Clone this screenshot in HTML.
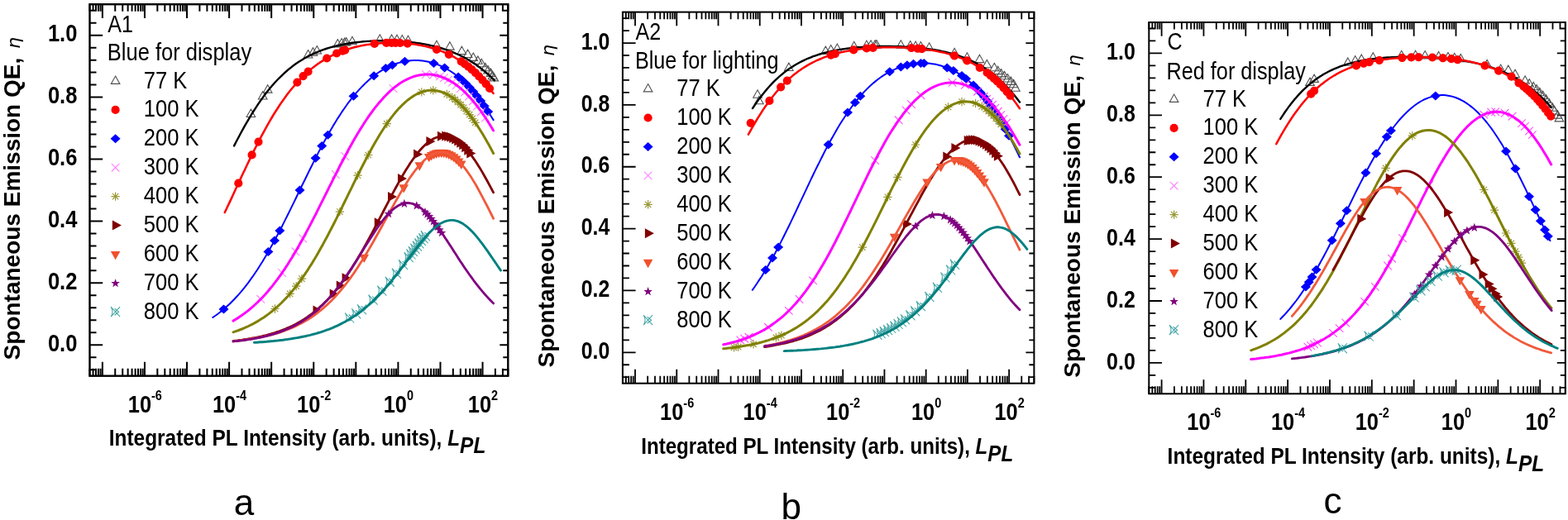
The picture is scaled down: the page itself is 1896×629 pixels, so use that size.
<!DOCTYPE html>
<html><head><meta charset="utf-8"><title>Spontaneous Emission QE</title><style>
html,body{margin:0;padding:0;background:#fff;}
svg{display:block;}
text{font-family:"Liberation Sans",Arial,sans-serif;}
.tl{font-size:29.2px;font-weight:bold;}
.sup{font-size:16.6px;}
.xt{font-size:28.2px;font-weight:bold;}
.it{font-style:italic;}
.yt{font-size:28px;font-weight:bold;}
.eta{font-family:"DejaVu Sans",sans-serif;font-style:oblique;font-weight:normal;font-size:22px;}
.lg{font-size:29px;fill:#000;}
.pl{font-size:29.5px;fill:#000;}
.sub{font-size:44px;}
</style></head><body>
<svg width="1896" height="629" viewBox="0 0 1896 629">
<rect width="100%" height="100%" fill="#fff"/>
<clipPath id="clipA"><rect x="108.5" y="5.2" width="505.8" height="449.5"/></clipPath>
<path d="M108.5 454.7V445.7M108.5 5.2V13.8M112.54 454.7V445.7M112.54 5.2V13.8M115.96 454.7V445.7M115.96 5.2V13.8M118.93 454.7V445.7M118.93 5.2V13.8M121.54 454.7V445.7M121.54 5.2V13.8M123.88 454.7V437.7M123.88 5.2V21.9M139.25 454.7V445.7M139.25 5.2V13.8M148.24 454.7V445.7M148.24 5.2V13.8M154.63 454.7V445.7M154.63 5.2V13.8M159.57 454.7V445.7M159.57 5.2V13.8M163.62 454.7V445.7M163.62 5.2V13.8M167.04 454.7V445.7M167.04 5.2V13.8M170 454.7V445.7M170 5.2V13.8M172.61 454.7V445.7M172.61 5.2V13.8M174.95 454.7V437.7M174.95 5.2V21.9M190.33 454.7V445.7M190.33 5.2V13.8M199.32 454.7V445.7M199.32 5.2V13.8M205.7 454.7V445.7M205.7 5.2V13.8M210.65 454.7V445.7M210.65 5.2V13.8M214.69 454.7V445.7M214.69 5.2V13.8M218.11 454.7V445.7M218.11 5.2V13.8M221.08 454.7V445.7M221.08 5.2V13.8M223.69 454.7V445.7M223.69 5.2V13.8M226.03 454.7V437.7M226.03 5.2V21.9M241.4 454.7V445.7M241.4 5.2V13.8M250.39 454.7V445.7M250.39 5.2V13.8M256.78 454.7V445.7M256.78 5.2V13.8M261.72 454.7V445.7M261.72 5.2V13.8M265.77 454.7V445.7M265.77 5.2V13.8M269.19 454.7V445.7M269.19 5.2V13.8M272.15 454.7V445.7M272.15 5.2V13.8M274.76 454.7V445.7M274.76 5.2V13.8M277.1 454.7V437.7M277.1 5.2V21.9M292.48 454.7V445.7M292.48 5.2V13.8M301.47 454.7V445.7M301.47 5.2V13.8M307.85 454.7V445.7M307.85 5.2V13.8M312.8 454.7V445.7M312.8 5.2V13.8M316.84 454.7V445.7M316.84 5.2V13.8M320.26 454.7V445.7M320.26 5.2V13.8M323.23 454.7V445.7M323.23 5.2V13.8M325.84 454.7V445.7M325.84 5.2V13.8M328.17 454.7V437.7M328.17 5.2V21.9M343.55 454.7V445.7M343.55 5.2V13.8M352.54 454.7V445.7M352.54 5.2V13.8M358.93 454.7V445.7M358.93 5.2V13.8M363.87 454.7V445.7M363.87 5.2V13.8M367.92 454.7V445.7M367.92 5.2V13.8M371.34 454.7V445.7M371.34 5.2V13.8M374.3 454.7V445.7M374.3 5.2V13.8M376.91 454.7V445.7M376.91 5.2V13.8M379.25 454.7V437.7M379.25 5.2V21.9M394.63 454.7V445.7M394.63 5.2V13.8M403.62 454.7V445.7M403.62 5.2V13.8M410 454.7V445.7M410 5.2V13.8M414.95 454.7V445.7M414.95 5.2V13.8M418.99 454.7V445.7M418.99 5.2V13.8M422.41 454.7V445.7M422.41 5.2V13.8M425.38 454.7V445.7M425.38 5.2V13.8M427.99 454.7V445.7M427.99 5.2V13.8M430.32 454.7V437.7M430.32 5.2V21.9M445.7 454.7V445.7M445.7 5.2V13.8M454.69 454.7V445.7M454.69 5.2V13.8M461.08 454.7V445.7M461.08 5.2V13.8M466.02 454.7V445.7M466.02 5.2V13.8M470.07 454.7V445.7M470.07 5.2V13.8M473.49 454.7V445.7M473.49 5.2V13.8M476.45 454.7V445.7M476.45 5.2V13.8M479.06 454.7V445.7M479.06 5.2V13.8M481.4 454.7V437.7M481.4 5.2V21.9M496.77 454.7V445.7M496.77 5.2V13.8M505.77 454.7V445.7M505.77 5.2V13.8M512.15 454.7V445.7M512.15 5.2V13.8M517.1 454.7V445.7M517.1 5.2V13.8M521.14 454.7V445.7M521.14 5.2V13.8M524.56 454.7V445.7M524.56 5.2V13.8M527.53 454.7V445.7M527.53 5.2V13.8M530.14 454.7V445.7M530.14 5.2V13.8M532.47 454.7V437.7M532.47 5.2V21.9M547.85 454.7V445.7M547.85 5.2V13.8M556.84 454.7V445.7M556.84 5.2V13.8M563.23 454.7V445.7M563.23 5.2V13.8M568.17 454.7V445.7M568.17 5.2V13.8M572.22 454.7V445.7M572.22 5.2V13.8M575.64 454.7V445.7M575.64 5.2V13.8M578.6 454.7V445.7M578.6 5.2V13.8M581.21 454.7V445.7M581.21 5.2V13.8M583.55 454.7V437.7M583.55 5.2V21.9M598.92 454.7V445.7M598.92 5.2V13.8M607.92 454.7V445.7M607.92 5.2V13.8M614.3 454.7V445.7M614.3 5.2V13.8M108.5 447.21H116.5M614.3 447.21H608.3M108.5 432.23H116.5M614.3 432.23H608.3M108.5 417.24H124.2M614.3 417.24H604.3M108.5 402.26H116.5M614.3 402.26H608.3M108.5 387.28H116.5M614.3 387.28H608.3M108.5 372.29H116.5M614.3 372.29H608.3M108.5 357.31H116.5M614.3 357.31H608.3M108.5 342.33H124.2M614.3 342.33H604.3M108.5 327.34H116.5M614.3 327.34H608.3M108.5 312.36H116.5M614.3 312.36H608.3M108.5 297.38H116.5M614.3 297.38H608.3M108.5 282.39H116.5M614.3 282.39H608.3M108.5 267.41H124.2M614.3 267.41H604.3M108.5 252.43H116.5M614.3 252.43H608.3M108.5 237.44H116.5M614.3 237.44H608.3M108.5 222.46H116.5M614.3 222.46H608.3M108.5 207.48H116.5M614.3 207.48H608.3M108.5 192.49H124.2M614.3 192.49H604.3M108.5 177.51H116.5M614.3 177.51H608.3M108.5 162.53H116.5M614.3 162.53H608.3M108.5 147.54H116.5M614.3 147.54H608.3M108.5 132.56H116.5M614.3 132.56H608.3M108.5 117.58H124.2M614.3 117.58H604.3M108.5 102.59H116.5M614.3 102.59H608.3M108.5 87.61H116.5M614.3 87.61H608.3M108.5 72.63H116.5M614.3 72.63H608.3M108.5 57.64H116.5M614.3 57.64H608.3M108.5 42.66H124.2M614.3 42.66H604.3M108.5 27.68H116.5M614.3 27.68H608.3M108.5 12.69H116.5M614.3 12.69H608.3" stroke="#000" stroke-width="2.0" fill="none"/>
<rect x="108.5" y="5.2" width="505.8" height="449.5" fill="none" stroke="#000" stroke-width="2.4"/>
<text transform="translate(93.4 424.94) scale(0.875 1)" text-anchor="end" class="tl">0.0</text>
<text transform="translate(93.4 350.03) scale(0.875 1)" text-anchor="end" class="tl">0.2</text>
<text transform="translate(93.4 275.11) scale(0.875 1)" text-anchor="end" class="tl">0.4</text>
<text transform="translate(93.4 200.19) scale(0.875 1)" text-anchor="end" class="tl">0.6</text>
<text transform="translate(93.4 125.28) scale(0.875 1)" text-anchor="end" class="tl">0.8</text>
<text transform="translate(93.4 50.36) scale(0.875 1)" text-anchor="end" class="tl">1.0</text>
<text transform="translate(175.35 499.3) scale(0.87 1)" text-anchor="middle" class="tl">10<tspan dy="-15.3" class="sup">-6</tspan></text>
<text transform="translate(277.5 499.3) scale(0.87 1)" text-anchor="middle" class="tl">10<tspan dy="-15.3" class="sup">-4</tspan></text>
<text transform="translate(379.65 499.3) scale(0.87 1)" text-anchor="middle" class="tl">10<tspan dy="-15.3" class="sup">-2</tspan></text>
<text transform="translate(481.8 499.3) scale(0.87 1)" text-anchor="middle" class="tl">10<tspan dy="-15.3" class="sup">0</tspan></text>
<text transform="translate(583.95 499.3) scale(0.87 1)" text-anchor="middle" class="tl">10<tspan dy="-15.3" class="sup">2</tspan></text>
<g clip-path="url(#clipA)">
<path d="M303.4 132.1l5.3 9.4h-10.6zM317.7 110.6l5.3 9.4h-10.6zM323.7 102.7l5.3 9.4h-10.6zM372.6 60.6l5.3 9.4h-10.6zM378.5 57.7l5.3 9.4h-10.6zM383.3 55.6l5.3 9.4h-10.6zM408.3 47.6l5.3 9.4h-10.6zM413.1 46.6l5.3 9.4h-10.6zM416.7 45.9l5.3 9.4h-10.6zM418.7 45.5l5.3 9.4h-10.6zM425.9 44.3l5.3 9.4h-10.6zM459.3 41.8l5.3 9.4h-10.6zM473.6 41.9l5.3 9.4h-10.6zM480.0 42.2l5.3 9.4h-10.6zM486.3 42.6l5.3 9.4h-10.6zM493.5 43.2l5.3 9.4h-10.6zM528.0 49.2l5.3 9.4h-10.6zM543.9 50.7l5.3 9.4h-10.6zM558.4 56.2l5.3 9.4h-10.6zM565.6 60.1l5.3 9.4h-10.6zM572.3 64.0l5.3 9.4h-10.6zM577.9 67.9l5.3 9.4h-10.6zM582.3 71.3l5.3 9.4h-10.6zM586.8 76.3l5.3 9.4h-10.6zM590.1 79.6l5.3 9.4h-10.6zM593.5 83.0l5.3 9.4h-10.6zM595.7 86.3l5.3 9.4h-10.6zM597.3 88.5l5.3 9.4h-10.6z" fill="none" stroke="#505050" stroke-width="1.1" stroke-linejoin="miter"/>
<path d="M283.1,176.4 L285.7,171.3 L288.4,166.2 L291.0,161.3 L293.7,156.4 L296.3,151.7 L299.0,147.1 L301.6,142.6 L304.3,138.2 L306.9,134.0 L309.6,129.9 L312.2,125.9 L314.8,122.1 L317.5,118.4 L320.1,114.8 L322.8,111.3 L325.4,108.0 L328.1,104.8 L330.7,101.8 L333.4,98.8 L336.0,96.0 L338.7,93.3 L341.3,90.8 L343.9,88.3 L346.6,86.0 L349.2,83.7 L351.9,81.6 L354.5,79.5 L357.2,77.6 L359.8,75.8 L362.5,74.0 L365.1,72.4 L367.8,70.8 L370.4,69.3 L373.0,67.9 L375.7,66.6 L378.3,65.3 L381.0,64.1 L383.6,63.0 L386.3,61.9 L388.9,60.9 L391.6,59.9 L394.2,59.0 L396.9,58.2 L399.5,57.4 L402.1,56.7 L404.8,56.0 L407.4,55.3 L410.1,54.7 L412.7,54.1 L415.4,53.6 L418.0,53.1 L420.7,52.7 L423.3,52.2 L426.0,51.8 L428.6,51.5 L431.2,51.2 L433.9,50.9 L436.5,50.6 L439.2,50.3 L441.8,50.1 L444.5,49.9 L447.1,49.8 L449.8,49.6 L452.4,49.5 L455.0,49.4 L457.7,49.3 L460.3,49.3 L463.0,49.3 L465.6,49.3 L468.3,49.3 L470.9,49.3 L473.6,49.4 L476.2,49.5 L478.9,49.6 L481.5,49.8 L484.1,49.9 L486.8,50.1 L489.4,50.3 L492.1,50.5 L494.7,50.8 L497.4,51.1 L500.0,51.4 L502.7,51.8 L505.3,52.1 L508.0,52.5 L510.6,53.0 L513.2,53.4 L515.9,53.9 L518.5,54.5 L521.2,55.1 L523.8,55.7 L526.5,56.3 L529.1,57.0 L531.8,57.8 L534.4,58.5 L537.1,59.4 L539.7,60.3 L542.3,61.2 L545.0,62.2 L547.6,63.2 L550.3,64.3 L552.9,65.5 L555.6,66.7 L558.2,68.0 L560.9,69.4 L563.5,70.8 L566.2,72.3 L568.8,73.9 L571.4,75.6 L574.1,77.3 L576.7,79.1 L579.4,81.1 L582.0,83.1 L584.7,85.2 L587.3,87.4 L590.0,89.7 L592.6,92.1 L595.3,94.6 L597.9,97.3" stroke="#000000" stroke-width="2.4" fill="none" stroke-linejoin="round" stroke-linecap="round"/>
<path d="M283.2 221.7a5.1 5.1 0 1 0 10.2 0a5.1 5.1 0 1 0 -10.2 0zM299.5 187.4a5.1 5.1 0 1 0 10.2 0a5.1 5.1 0 1 0 -10.2 0zM307.4 171.6a5.1 5.1 0 1 0 10.2 0a5.1 5.1 0 1 0 -10.2 0zM354.3 99.6a5.1 5.1 0 1 0 10.2 0a5.1 5.1 0 1 0 -10.2 0zM361.5 92.1a5.1 5.1 0 1 0 10.2 0a5.1 5.1 0 1 0 -10.2 0zM367.5 86.6a5.1 5.1 0 1 0 10.2 0a5.1 5.1 0 1 0 -10.2 0zM390.1 70.5a5.1 5.1 0 1 0 10.2 0a5.1 5.1 0 1 0 -10.2 0zM402.0 64.5a5.1 5.1 0 1 0 10.2 0a5.1 5.1 0 1 0 -10.2 0zM409.2 61.6a5.1 5.1 0 1 0 10.2 0a5.1 5.1 0 1 0 -10.2 0zM412.1 60.6a5.1 5.1 0 1 0 10.2 0a5.1 5.1 0 1 0 -10.2 0zM447.8 52.9a5.1 5.1 0 1 0 10.2 0a5.1 5.1 0 1 0 -10.2 0zM462.1 51.9a5.1 5.1 0 1 0 10.2 0a5.1 5.1 0 1 0 -10.2 0zM468.5 51.8a5.1 5.1 0 1 0 10.2 0a5.1 5.1 0 1 0 -10.2 0zM473.3 51.8a5.1 5.1 0 1 0 10.2 0a5.1 5.1 0 1 0 -10.2 0zM478.8 52.0a5.1 5.1 0 1 0 10.2 0a5.1 5.1 0 1 0 -10.2 0zM487.6 52.6a5.1 5.1 0 1 0 10.2 0a5.1 5.1 0 1 0 -10.2 0zM522.9 59.8a5.1 5.1 0 1 0 10.2 0a5.1 5.1 0 1 0 -10.2 0zM537.7 65.8a5.1 5.1 0 1 0 10.2 0a5.1 5.1 0 1 0 -10.2 0zM552.6 74.3a5.1 5.1 0 1 0 10.2 0a5.1 5.1 0 1 0 -10.2 0zM556.9 77.3a5.1 5.1 0 1 0 10.2 0a5.1 5.1 0 1 0 -10.2 0zM561.2 80.6a5.1 5.1 0 1 0 10.2 0a5.1 5.1 0 1 0 -10.2 0zM565.5 84.2a5.1 5.1 0 1 0 10.2 0a5.1 5.1 0 1 0 -10.2 0zM569.8 88.1a5.1 5.1 0 1 0 10.2 0a5.1 5.1 0 1 0 -10.2 0zM574.1 92.3a5.1 5.1 0 1 0 10.2 0a5.1 5.1 0 1 0 -10.2 0zM578.4 96.8a5.1 5.1 0 1 0 10.2 0a5.1 5.1 0 1 0 -10.2 0zM582.7 101.7a5.1 5.1 0 1 0 10.2 0a5.1 5.1 0 1 0 -10.2 0zM587.0 107.0a5.1 5.1 0 1 0 10.2 0a5.1 5.1 0 1 0 -10.2 0z" fill="#ff0000"/>
<path d="M271.8,257.0 L274.5,251.2 L277.3,245.4 L280.0,239.6 L282.7,233.7 L285.4,227.8 L288.2,221.9 L290.9,216.1 L293.6,210.3 L296.4,204.5 L299.1,198.7 L301.8,193.1 L304.6,187.5 L307.3,181.9 L310.0,176.5 L312.7,171.1 L315.5,165.9 L318.2,160.8 L320.9,155.8 L323.7,150.9 L326.4,146.1 L329.1,141.5 L331.8,137.0 L334.6,132.7 L337.3,128.5 L340.0,124.4 L342.8,120.5 L345.5,116.7 L348.2,113.0 L351.0,109.5 L353.7,106.2 L356.4,103.0 L359.1,99.9 L361.9,96.9 L364.6,94.1 L367.3,91.4 L370.1,88.9 L372.8,86.4 L375.5,84.1 L378.2,81.9 L381.0,79.8 L383.7,77.8 L386.4,75.9 L389.2,74.1 L391.9,72.4 L394.6,70.8 L397.4,69.3 L400.1,67.8 L402.8,66.5 L405.5,65.2 L408.3,64.0 L411.0,62.9 L413.7,61.9 L416.5,60.9 L419.2,59.9 L421.9,59.1 L424.6,58.3 L427.4,57.5 L430.1,56.8 L432.8,56.2 L435.6,55.6 L438.3,55.1 L441.0,54.6 L443.8,54.1 L446.5,53.7 L449.2,53.3 L451.9,53.0 L454.7,52.7 L457.4,52.5 L460.1,52.3 L462.9,52.1 L465.6,52.0 L468.3,51.9 L471.0,51.8 L473.8,51.8 L476.5,51.8 L479.2,51.8 L482.0,51.9 L484.7,52.0 L487.4,52.2 L490.2,52.4 L492.9,52.6 L495.6,52.9 L498.3,53.2 L501.1,53.6 L503.8,54.0 L506.5,54.5 L509.3,55.0 L512.0,55.5 L514.7,56.1 L517.4,56.8 L520.2,57.5 L522.9,58.2 L525.6,59.1 L528.4,60.0 L531.1,60.9 L533.8,61.9 L536.6,63.0 L539.3,64.2 L542.0,65.4 L544.7,66.8 L547.5,68.2 L550.2,69.7 L552.9,71.3 L555.7,73.0 L558.4,74.8 L561.1,76.7 L563.8,78.7 L566.6,80.8 L569.3,83.1 L572.0,85.5 L574.8,88.0 L577.5,90.6 L580.2,93.3 L583.0,96.2 L585.7,99.3 L588.4,102.5 L591.1,105.8 L593.9,109.3 L596.6,112.9" stroke="#ff0000" stroke-width="2.5" fill="none" stroke-linejoin="round" stroke-linecap="round"/>
<path d="M270.5 368.5l6 5.5l-6 5.5l-6 -5.5zM324.4 299.1l6 5.5l-6 5.5l-6 -5.5zM332.0 285.4l6 5.5l-6 5.5l-6 -5.5zM338.3 273.5l6 5.5l-6 5.5l-6 -5.5zM362.5 224.5l6 5.5l-6 5.5l-6 -5.5zM381.6 185.7l6 5.5l-6 5.5l-6 -5.5zM389.2 171.1l6 5.5l-6 5.5l-6 -5.5zM396.5 157.7l6 5.5l-6 5.5l-6 -5.5zM427.5 110.8l6 5.5l-6 5.5l-6 -5.5zM452.1 86.3l6 5.5l-6 5.5l-6 -5.5zM466.4 77.0l6 5.5l-6 5.5l-6 -5.5zM474.4 73.2l6 5.5l-6 5.5l-6 -5.5zM489.5 68.8l6 5.5l-6 5.5l-6 -5.5zM524.5 71.0l6 5.5l-6 5.5l-6 -5.5zM537.6 76.4l6 5.5l-6 5.5l-6 -5.5zM554.2 87.5l6 5.5l-6 5.5l-6 -5.5zM558.7 91.3l6 5.5l-6 5.5l-6 -5.5zM563.2 95.6l6 5.5l-6 5.5l-6 -5.5zM567.7 100.2l6 5.5l-6 5.5l-6 -5.5zM572.2 105.2l6 5.5l-6 5.5l-6 -5.5zM576.7 110.7l6 5.5l-6 5.5l-6 -5.5zM581.2 116.5l6 5.5l-6 5.5l-6 -5.5zM585.7 122.8l6 5.5l-6 5.5l-6 -5.5zM590.2 129.4l6 5.5l-6 5.5l-6 -5.5z" fill="#0000ff"/>
<path d="M257.3,384.0 L260.2,382.0 L263.0,380.0 L265.9,377.8 L268.7,375.5 L271.6,373.1 L274.4,370.6 L277.3,368.0 L280.1,365.2 L283.0,362.3 L285.8,359.3 L288.7,356.1 L291.5,352.8 L294.4,349.4 L297.2,345.8 L300.1,342.1 L302.9,338.2 L305.8,334.2 L308.6,330.0 L311.5,325.7 L314.3,321.3 L317.2,316.7 L320.0,312.0 L322.9,307.2 L325.7,302.2 L328.6,297.1 L331.4,291.9 L334.3,286.6 L337.1,281.2 L340.0,275.7 L342.8,270.1 L345.7,264.4 L348.5,258.7 L351.4,252.9 L354.2,247.1 L357.1,241.2 L359.9,235.3 L362.8,229.4 L365.6,223.5 L368.5,217.7 L371.4,211.8 L374.2,206.0 L377.1,200.3 L379.9,194.6 L382.8,188.9 L385.6,183.4 L388.5,178.0 L391.3,172.6 L394.2,167.4 L397.0,162.3 L399.9,157.3 L402.7,152.4 L405.6,147.7 L408.4,143.1 L411.3,138.7 L414.1,134.4 L417.0,130.2 L419.8,126.2 L422.7,122.4 L425.5,118.7 L428.4,115.2 L431.2,111.8 L434.1,108.6 L436.9,105.6 L439.8,102.7 L442.6,99.9 L445.5,97.3 L448.3,94.8 L451.2,92.5 L454.0,90.3 L456.9,88.3 L459.7,86.4 L462.6,84.7 L465.4,83.0 L468.3,81.5 L471.1,80.2 L474.0,78.9 L476.8,77.8 L479.7,76.8 L482.5,75.9 L485.4,75.2 L488.3,74.5 L491.1,74.0 L494.0,73.6 L496.8,73.3 L499.7,73.1 L502.5,73.0 L505.4,73.1 L508.2,73.3 L511.1,73.5 L513.9,73.9 L516.8,74.5 L519.6,75.1 L522.5,75.8 L525.3,76.7 L528.2,77.7 L531.0,78.9 L533.9,80.1 L536.7,81.5 L539.6,83.0 L542.4,84.7 L545.3,86.5 L548.1,88.4 L551.0,90.5 L553.8,92.7 L556.7,95.1 L559.5,97.6 L562.4,100.3 L565.2,103.1 L568.1,106.1 L570.9,109.3 L573.8,112.6 L576.6,116.1 L579.5,119.8 L582.3,123.6 L585.2,127.6 L588.0,131.7 L590.9,136.0 L593.7,140.5 L596.6,145.1" stroke="#0000ff" stroke-width="2.0" fill="none" stroke-linejoin="round" stroke-linecap="round"/>
<path d="M310.5 357.0l9.6 9.6M310.5 366.6l9.6 -9.6M336.3 325.2l9.6 9.6M336.3 334.8l9.6 -9.6M352.6 299.5l9.6 9.6M352.6 309.1l9.6 -9.6M361.5 283.7l9.6 9.6M361.5 293.3l9.6 -9.6M401.0 206.2l9.6 9.6M401.0 215.8l9.6 -9.6M412.4 184.2l9.6 9.6M412.4 193.8l9.6 -9.6M470.6 102.2l9.6 9.6M470.6 111.8l9.6 -9.6M510.1 85.2l9.6 9.6M510.1 94.8l9.6 -9.6M519.2 85.7l9.6 9.6M519.2 95.3l9.6 -9.6M527.2 87.6l9.6 9.6M527.2 97.2l9.6 -9.6M532.2 89.4l9.6 9.6M532.2 99.0l9.6 -9.6M537.2 91.8l9.6 9.6M537.2 101.4l9.6 -9.6M542.2 94.7l9.6 9.6M542.2 104.3l9.6 -9.6M547.2 98.2l9.6 9.6M547.2 107.8l9.6 -9.6M552.2 102.2l9.6 9.6M552.2 111.8l9.6 -9.6M557.2 106.7l9.6 9.6M557.2 116.3l9.6 -9.6M562.2 111.8l9.6 9.6M562.2 121.4l9.6 -9.6M567.2 117.4l9.6 9.6M567.2 127.0l9.6 -9.6M572.2 123.7l9.6 9.6M572.2 133.3l9.6 -9.6M577.2 130.4l9.6 9.6M577.2 140.0l9.6 -9.6M582.2 137.7l9.6 9.6M582.2 147.3l9.6 -9.6" fill="none" stroke="#ff80ff" stroke-width="1.1"/>
<path d="M282.0,388.1 L284.6,386.5 L287.3,384.9 L289.9,383.1 L292.6,381.3 L295.2,379.4 L297.9,377.4 L300.5,375.3 L303.1,373.1 L305.8,370.9 L308.4,368.5 L311.1,366.0 L313.7,363.4 L316.4,360.7 L319.0,357.9 L321.7,355.0 L324.3,352.0 L326.9,348.8 L329.6,345.6 L332.2,342.2 L334.9,338.7 L337.5,335.1 L340.2,331.4 L342.8,327.5 L345.4,323.6 L348.1,319.5 L350.7,315.3 L353.4,311.0 L356.0,306.6 L358.7,302.1 L361.3,297.5 L364.0,292.8 L366.6,288.0 L369.2,283.1 L371.9,278.1 L374.5,273.1 L377.2,268.0 L379.8,262.9 L382.5,257.7 L385.1,252.4 L387.7,247.2 L390.4,241.9 L393.0,236.6 L395.7,231.3 L398.3,225.9 L401.0,220.7 L403.6,215.4 L406.3,210.1 L408.9,204.9 L411.5,199.8 L414.2,194.7 L416.8,189.7 L419.5,184.7 L422.1,179.8 L424.8,175.0 L427.4,170.3 L430.0,165.8 L432.7,161.3 L435.3,156.9 L438.0,152.7 L440.6,148.5 L443.3,144.5 L445.9,140.7 L448.6,136.9 L451.2,133.3 L453.8,129.9 L456.5,126.6 L459.1,123.4 L461.8,120.4 L464.4,117.5 L467.1,114.7 L469.7,112.1 L472.3,109.7 L475.0,107.4 L477.6,105.2 L480.3,103.2 L482.9,101.3 L485.6,99.6 L488.2,98.0 L490.9,96.6 L493.5,95.3 L496.1,94.1 L498.8,93.1 L501.4,92.2 L504.1,91.5 L506.7,90.9 L509.4,90.5 L512.0,90.2 L514.6,90.0 L517.3,90.0 L519.9,90.1 L522.6,90.3 L525.2,90.7 L527.9,91.3 L530.5,92.0 L533.2,92.8 L535.8,93.8 L538.4,94.9 L541.1,96.1 L543.7,97.6 L546.4,99.1 L549.0,100.8 L551.7,102.7 L554.3,104.7 L556.9,106.9 L559.6,109.2 L562.2,111.7 L564.9,114.4 L567.5,117.2 L570.2,120.1 L572.8,123.2 L575.5,126.5 L578.1,129.9 L580.7,133.4 L583.4,137.2 L586.0,141.0 L588.7,145.0 L591.3,149.2 L594.0,153.5 L596.6,157.9" stroke="#ff00ff" stroke-width="3.0" fill="none" stroke-linejoin="round" stroke-linecap="round"/>
<path d="M327.3 373.5h10.4M332.5 368.3v10.4M328.8 369.8l7.4 7.4M328.8 377.2l7.4 -7.4M345.4 355.4h10.4M350.6 350.2v10.4M346.9 351.7l7.4 7.4M346.9 359.1l7.4 -7.4M353.0 346.1h10.4M358.2 340.9v10.4M354.5 342.4l7.4 7.4M354.5 349.8l7.4 -7.4M359.7 337.1h10.4M364.9 331.9v10.4M361.2 333.4l7.4 7.4M361.2 340.8l7.4 -7.4M405.7 256.1h10.4M410.9 250.9v10.4M407.2 252.4l7.4 7.4M407.2 259.8l7.4 -7.4M427.3 212.1h10.4M432.5 206.9v10.4M428.8 208.4l7.4 7.4M428.8 215.8l7.4 -7.4M440.0 187.5h10.4M445.2 182.3v10.4M441.5 183.8l7.4 7.4M441.5 191.2l7.4 -7.4M462.6 149.7h10.4M467.8 144.5v10.4M464.1 146.0l7.4 7.4M464.1 153.4l7.4 -7.4M504.6 111.4h10.4M509.8 106.2v10.4M506.1 107.7l7.4 7.4M506.1 115.1l7.4 -7.4M518.6 109.3h10.4M523.8 104.1v10.4M520.1 105.6l7.4 7.4M520.1 113.0l7.4 -7.4M535.1 113.9h10.4M540.3 108.7v10.4M536.6 110.2l7.4 7.4M536.6 117.6l7.4 -7.4M541.5 117.8h10.4M546.7 112.6v10.4M543.0 114.1l7.4 7.4M543.0 121.5l7.4 -7.4M545.0 120.5h10.4M550.2 115.3v10.4M546.5 116.8l7.4 7.4M546.5 124.2l7.4 -7.4M548.5 123.4h10.4M553.7 118.2v10.4M550.0 119.7l7.4 7.4M550.0 127.1l7.4 -7.4M552.0 126.7h10.4M557.2 121.5v10.4M553.5 123.0l7.4 7.4M553.5 130.4l7.4 -7.4M555.5 130.4h10.4M560.7 125.2v10.4M557.0 126.7l7.4 7.4M557.0 134.1l7.4 -7.4M559.0 134.4h10.4M564.2 129.2v10.4M560.5 130.7l7.4 7.4M560.5 138.1l7.4 -7.4M562.5 138.7h10.4M567.7 133.5v10.4M564.0 135.0l7.4 7.4M564.0 142.4l7.4 -7.4M566.0 143.3h10.4M571.2 138.1v10.4M567.5 139.6l7.4 7.4M567.5 147.0l7.4 -7.4M569.5 148.3h10.4M574.7 143.1v10.4M571.0 144.6l7.4 7.4M571.0 152.0l7.4 -7.4" fill="none" stroke="#9a9a3a" stroke-width="1.2"/>
<path d="M282.0,401.8 L284.6,400.9 L287.3,400.0 L289.9,399.0 L292.6,398.0 L295.2,396.9 L297.9,395.7 L300.5,394.5 L303.1,393.2 L305.8,391.8 L308.4,390.4 L311.1,388.9 L313.7,387.3 L316.4,385.6 L319.0,383.9 L321.7,382.0 L324.3,380.1 L326.9,378.1 L329.6,376.0 L332.2,373.7 L334.9,371.4 L337.5,369.0 L340.2,366.5 L342.8,363.8 L345.4,361.1 L348.1,358.2 L350.7,355.2 L353.4,352.1 L356.0,348.9 L358.7,345.5 L361.3,342.0 L364.0,338.4 L366.6,334.7 L369.2,330.9 L371.9,326.9 L374.5,322.8 L377.2,318.6 L379.8,314.2 L382.5,309.8 L385.1,305.2 L387.7,300.6 L390.4,295.8 L393.0,290.9 L395.7,286.0 L398.3,280.9 L401.0,275.8 L403.6,270.7 L406.3,265.4 L408.9,260.1 L411.5,254.8 L414.2,249.4 L416.8,244.0 L419.5,238.6 L422.1,233.2 L424.8,227.8 L427.4,222.4 L430.0,217.1 L432.7,211.8 L435.3,206.5 L438.0,201.3 L440.6,196.2 L443.3,191.1 L445.9,186.2 L448.6,181.3 L451.2,176.6 L453.8,171.9 L456.5,167.4 L459.1,163.0 L461.8,158.8 L464.4,154.7 L467.1,150.8 L469.7,147.0 L472.3,143.4 L475.0,139.9 L477.6,136.6 L480.3,133.5 L482.9,130.6 L485.6,127.9 L488.2,125.3 L490.9,122.9 L493.5,120.7 L496.1,118.7 L498.8,116.9 L501.4,115.3 L504.1,113.8 L506.7,112.6 L509.4,111.5 L512.0,110.7 L514.6,110.0 L517.3,109.6 L519.9,109.3 L522.6,109.3 L525.2,109.4 L527.9,109.7 L530.5,110.2 L533.2,111.0 L535.8,111.9 L538.4,113.0 L541.1,114.4 L543.7,115.9 L546.4,117.6 L549.0,119.5 L551.7,121.6 L554.3,124.0 L556.9,126.5 L559.6,129.2 L562.2,132.1 L564.9,135.2 L567.5,138.5 L570.2,141.9 L572.8,145.6 L575.5,149.4 L578.1,153.4 L580.7,157.5 L583.4,161.8 L586.0,166.3 L588.7,170.9 L591.3,175.6 L594.0,180.5 L596.6,185.5" stroke="#808000" stroke-width="3.0" fill="none" stroke-linejoin="round" stroke-linecap="round"/>
<path d="M378.5 369.5l11 6l-11 6zM398.7 349.5l11 6l-11 6zM406.8 339.5l11 6l-11 6zM413.6 330.3l11 6l-11 6zM452.8 263.2l11 6l-11 6zM469.0 232.1l11 6l-11 6zM481.0 210.1l11 6l-11 6zM500.1 180.6l11 6l-11 6zM515.4 165.0l11 6l-11 6zM529.0 158.8l11 6l-11 6zM534.3 158.6l11 6l-11 6zM537.3 158.9l11 6l-11 6zM540.3 159.7l11 6l-11 6zM543.3 160.9l11 6l-11 6zM546.3 162.4l11 6l-11 6zM549.3 164.4l11 6l-11 6zM552.3 166.7l11 6l-11 6zM555.3 169.3l11 6l-11 6zM558.3 172.3l11 6l-11 6zM561.3 175.7l11 6l-11 6zM564.3 179.4l11 6l-11 6z" fill="#800000"/>
<path d="M282.0,412.4 L284.6,412.1 L287.3,411.8 L289.9,411.4 L292.6,411.1 L295.2,410.7 L297.9,410.3 L300.5,409.9 L303.1,409.5 L305.8,409.0 L308.4,408.5 L311.1,408.0 L313.7,407.4 L316.4,406.9 L319.0,406.2 L321.7,405.6 L324.3,404.9 L326.9,404.2 L329.6,403.4 L332.2,402.6 L334.9,401.7 L337.5,400.8 L340.2,399.8 L342.8,398.8 L345.4,397.8 L348.1,396.6 L350.7,395.4 L353.4,394.2 L356.0,392.9 L358.7,391.5 L361.3,390.0 L364.0,388.5 L366.6,386.8 L369.2,385.1 L371.9,383.4 L374.5,381.5 L377.2,379.5 L379.8,377.4 L382.5,375.3 L385.1,373.0 L387.7,370.6 L390.4,368.2 L393.0,365.6 L395.7,362.9 L398.3,360.1 L401.0,357.1 L403.6,354.1 L406.3,350.9 L408.9,347.6 L411.5,344.2 L414.2,340.6 L416.8,337.0 L419.5,333.2 L422.1,329.3 L424.8,325.3 L427.4,321.1 L430.0,316.9 L432.7,312.5 L435.3,308.0 L438.0,303.5 L440.6,298.8 L443.3,294.0 L445.9,289.2 L448.6,284.3 L451.2,279.3 L453.8,274.3 L456.5,269.3 L459.1,264.2 L461.8,259.1 L464.4,254.0 L467.1,248.9 L469.7,243.8 L472.3,238.7 L475.0,233.7 L477.6,228.8 L480.3,224.0 L482.9,219.2 L485.6,214.5 L488.2,210.0 L490.9,205.6 L493.5,201.4 L496.1,197.3 L498.8,193.5 L501.4,189.8 L504.1,186.3 L506.7,183.0 L509.4,180.0 L512.0,177.2 L514.6,174.7 L517.3,172.4 L519.9,170.4 L522.6,168.7 L525.2,167.3 L527.9,166.2 L530.5,165.3 L533.2,164.8 L535.8,164.5 L538.4,164.6 L541.1,165.0 L543.7,165.6 L546.4,166.6 L549.0,167.9 L551.7,169.5 L554.3,171.3 L556.9,173.5 L559.6,175.9 L562.2,178.6 L564.9,181.5 L567.5,184.8 L570.2,188.2 L572.8,191.9 L575.5,195.8 L578.1,199.9 L580.7,204.1 L583.4,208.6 L586.0,213.2 L588.7,218.0 L591.3,222.8 L594.0,227.8 L596.6,232.9" stroke="#800000" stroke-width="2.8" fill="none" stroke-linejoin="round" stroke-linecap="round"/>
<path d="M434.5 307.7h11.6l-5.8 10.4zM482.4 223.2h11.6l-5.8 10.4zM501.5 196.3h11.6l-5.8 10.4zM512.9 185.9h11.6l-5.8 10.4zM515.9 184.0h11.6l-5.8 10.4zM518.9 182.5h11.6l-5.8 10.4zM521.9 181.5h11.6l-5.8 10.4zM524.9 180.9h11.6l-5.8 10.4zM527.9 180.7h11.6l-5.8 10.4zM530.9 180.9h11.6l-5.8 10.4zM533.9 181.6h11.6l-5.8 10.4zM536.9 182.7h11.6l-5.8 10.4zM539.9 184.3h11.6l-5.8 10.4zM542.9 186.2h11.6l-5.8 10.4zM545.9 188.6h11.6l-5.8 10.4zM548.9 191.4h11.6l-5.8 10.4zM551.9 194.6h11.6l-5.8 10.4z" fill="#f0502d"/>
<path d="M282.0,412.7 L284.6,412.4 L287.3,412.1 L289.9,411.8 L292.6,411.5 L295.2,411.2 L297.9,410.8 L300.5,410.4 L303.1,410.0 L305.8,409.6 L308.4,409.2 L311.1,408.7 L313.7,408.2 L316.4,407.7 L319.0,407.1 L321.7,406.5 L324.3,405.9 L326.9,405.3 L329.6,404.6 L332.2,403.8 L334.9,403.1 L337.5,402.3 L340.2,401.4 L342.8,400.5 L345.4,399.5 L348.1,398.5 L350.7,397.5 L353.4,396.4 L356.0,395.2 L358.7,393.9 L361.3,392.6 L364.0,391.3 L366.6,389.8 L369.2,388.3 L371.9,386.7 L374.5,385.1 L377.2,383.3 L379.8,381.5 L382.5,379.6 L385.1,377.5 L387.7,375.4 L390.4,373.2 L393.0,370.9 L395.7,368.5 L398.3,366.0 L401.0,363.4 L403.6,360.7 L406.3,357.8 L408.9,354.9 L411.5,351.8 L414.2,348.7 L416.8,345.4 L419.5,342.0 L422.1,338.4 L424.8,334.8 L427.4,331.1 L430.0,327.2 L432.7,323.2 L435.3,319.1 L438.0,315.0 L440.6,310.7 L443.3,306.3 L445.9,301.9 L448.6,297.3 L451.2,292.7 L453.8,288.0 L456.5,283.3 L459.1,278.5 L461.8,273.7 L464.4,268.9 L467.1,264.1 L469.7,259.2 L472.3,254.4 L475.0,249.6 L477.6,244.9 L480.3,240.2 L482.9,235.6 L485.6,231.1 L488.2,226.7 L490.9,222.4 L493.5,218.3 L496.1,214.3 L498.8,210.6 L501.4,207.0 L504.1,203.6 L506.7,200.4 L509.4,197.5 L512.0,194.9 L514.6,192.5 L517.3,190.4 L519.9,188.5 L522.6,187.0 L525.2,185.8 L527.9,185.0 L530.5,184.4 L533.2,184.2 L535.8,184.3 L538.4,184.8 L541.1,185.6 L543.7,186.7 L546.4,188.2 L549.0,190.0 L551.7,192.1 L554.3,194.5 L556.9,197.3 L559.6,200.3 L562.2,203.6 L564.9,207.2 L567.5,211.0 L570.2,215.1 L572.8,219.4 L575.5,223.8 L578.1,228.5 L580.7,233.3 L583.4,238.3 L586.0,243.3 L588.7,248.5 L591.3,253.7 L594.0,259.0 L596.6,264.3" stroke="#f05a3c" stroke-width="2.8" fill="none" stroke-linejoin="round" stroke-linecap="round"/>
<path d="M470.0 253.1L471.4 256.9L475.3 257.0L472.2 259.4L473.3 263.3L470.0 261.0L466.7 263.3L467.8 259.4L464.7 257.0L468.6 256.9zM488.9 240.8L490.3 244.6L494.2 244.7L491.1 247.2L492.2 251.0L488.9 248.7L485.6 251.0L486.7 247.2L483.6 244.7L487.5 244.6zM503.8 243.3L505.2 247.1L509.1 247.2L506.0 249.7L507.1 253.5L503.8 251.2L500.5 253.5L501.6 249.7L498.5 247.2L502.4 247.1zM514.0 251.0L515.4 254.8L519.3 254.9L516.2 257.3L517.3 261.2L514.0 258.9L510.7 261.2L511.8 257.3L508.7 254.9L512.6 254.8zM516.5 253.5L517.9 257.3L521.8 257.4L518.7 259.9L519.8 263.7L516.5 261.4L513.2 263.7L514.3 259.9L511.2 257.4L515.1 257.3zM519.0 256.3L520.4 260.0L524.3 260.1L521.2 262.6L522.3 266.4L519.0 264.2L515.7 266.4L516.8 262.6L513.7 260.1L517.6 260.0zM521.5 259.2L522.9 262.9L526.8 263.1L523.7 265.5L524.8 269.3L521.5 267.1L518.2 269.3L519.3 265.5L516.2 263.1L520.1 262.9zM524.0 262.3L525.4 266.0L529.3 266.2L526.2 268.6L527.3 272.4L524.0 270.2L520.7 272.4L521.8 268.6L518.7 266.2L522.6 266.0zM526.5 265.6L527.9 269.3L531.8 269.4L528.7 271.9L529.8 275.7L526.5 273.5L523.2 275.7L524.3 271.9L521.2 269.4L525.1 269.3zM529.0 269.0L530.4 272.7L534.3 272.9L531.2 275.3L532.3 279.1L529.0 276.9L525.7 279.1L526.8 275.3L523.7 272.9L527.6 272.7zM531.5 272.5L532.9 276.3L536.8 276.4L533.7 278.8L534.8 282.6L531.5 280.4L528.2 282.6L529.3 278.8L526.2 276.4L530.1 276.3zM534.0 276.1L535.4 279.9L539.3 280.0L536.2 282.5L537.3 286.3L534.0 284.0L530.7 286.3L531.8 282.5L528.7 280.0L532.6 279.9z" fill="#800080"/>
<path d="M282.0,413.0 L284.6,412.7 L287.3,412.5 L289.9,412.1 L292.6,411.8 L295.2,411.5 L297.9,411.1 L300.5,410.7 L303.1,410.3 L305.8,409.9 L308.4,409.4 L311.1,408.9 L313.7,408.4 L316.4,407.8 L319.0,407.2 L321.7,406.6 L324.3,405.9 L326.9,405.2 L329.6,404.4 L332.2,403.6 L334.9,402.8 L337.5,401.9 L340.2,400.9 L342.8,399.9 L345.4,398.8 L348.1,397.7 L350.7,396.5 L353.4,395.3 L356.0,393.9 L358.7,392.5 L361.3,391.0 L364.0,389.5 L366.6,387.8 L369.2,386.1 L371.9,384.2 L374.5,382.3 L377.2,380.3 L379.8,378.1 L382.5,375.9 L385.1,373.6 L387.7,371.1 L390.4,368.6 L393.0,365.9 L395.7,363.1 L398.3,360.2 L401.0,357.1 L403.6,354.0 L406.3,350.7 L408.9,347.4 L411.5,343.9 L414.2,340.3 L416.8,336.6 L419.5,332.8 L422.1,328.9 L424.8,324.9 L427.4,320.8 L430.0,316.7 L432.7,312.5 L435.3,308.3 L438.0,304.1 L440.6,299.8 L443.3,295.6 L445.9,291.4 L448.6,287.3 L451.2,283.2 L453.8,279.2 L456.5,275.3 L459.1,271.6 L461.8,268.0 L464.4,264.6 L467.1,261.5 L469.7,258.5 L472.3,255.9 L475.0,253.4 L477.6,251.3 L480.3,249.5 L482.9,248.0 L485.6,246.9 L488.2,246.1 L490.9,245.6 L493.5,245.5 L496.1,245.8 L498.8,246.4 L501.4,247.3 L504.1,248.6 L506.7,250.2 L509.4,252.1 L512.0,254.3 L514.6,256.8 L517.3,259.5 L519.9,262.4 L522.6,265.6 L525.2,269.0 L527.9,272.5 L530.5,276.2 L533.2,280.0 L535.8,283.9 L538.4,287.9 L541.1,291.9 L543.7,296.0 L546.4,300.1 L549.0,304.2 L551.7,308.3 L554.3,312.4 L556.9,316.5 L559.6,320.4 L562.2,324.4 L564.9,328.2 L567.5,332.0 L570.2,335.7 L572.8,339.3 L575.5,342.8 L578.1,346.1 L580.7,349.4 L583.4,352.6 L586.0,355.7 L588.7,358.6 L591.3,361.5 L594.0,364.2 L596.6,366.9" stroke="#800080" stroke-width="2.8" fill="none" stroke-linejoin="round" stroke-linecap="round"/>
<path d="M417.2 378.5l11 12M417.2 390.5l11 -12M417.2 378.5q4 6 0 12M421.7 380.5l5 4l-5 4M425.3 373.3l11 12M425.3 385.3l11 -12M425.3 373.3q4 6 0 12M429.8 375.3l5 4l-5 4M432.1 368.3l11 12M432.1 380.3l11 -12M432.1 368.3q4 6 0 12M436.6 370.3l5 4l-5 4M445.6 356.6l11 12M445.6 368.6l11 -12M445.6 356.6q4 6 0 12M450.1 358.6l5 4l-5 4M456.4 345.6l11 12M456.4 357.6l11 -12M456.4 345.6q4 6 0 12M460.9 347.6l5 4l-5 4M465.9 334.8l11 12M465.9 346.8l11 -12M465.9 334.8q4 6 0 12M470.4 336.8l5 4l-5 4M474.0 324.7l11 12M474.0 336.7l11 -12M474.0 324.7q4 6 0 12M478.5 326.7l5 4l-5 4M482.1 314.1l11 12M482.1 326.1l11 -12M482.1 314.1q4 6 0 12M486.6 316.1l5 4l-5 4M488.8 305.1l11 12M488.8 317.1l11 -12M488.8 305.1q4 6 0 12M493.3 307.1l5 4l-5 4M491.5 301.5l11 12M491.5 313.5l11 -12M491.5 301.5q4 6 0 12M496.0 303.5l5 4l-5 4M494.0 298.1l11 12M494.0 310.1l11 -12M494.0 298.1q4 6 0 12M498.5 300.1l5 4l-5 4M496.5 294.8l11 12M496.5 306.8l11 -12M496.5 294.8q4 6 0 12M501.0 296.8l5 4l-5 4M499.0 291.6l11 12M499.0 303.6l11 -12M499.0 291.6q4 6 0 12M503.5 293.6l5 4l-5 4M501.5 288.4l11 12M501.5 300.4l11 -12M501.5 288.4q4 6 0 12M506.0 290.4l5 4l-5 4M504.0 285.2l11 12M504.0 297.2l11 -12M504.0 285.2q4 6 0 12M508.5 287.2l5 4l-5 4M506.5 282.2l11 12M506.5 294.2l11 -12M506.5 282.2q4 6 0 12M511.0 284.2l5 4l-5 4M509.0 279.3l11 12M509.0 291.3l11 -12M509.0 279.3q4 6 0 12M513.5 281.3l5 4l-5 4" fill="none" stroke="#4aa8a8" stroke-width="1.1"/>
<path d="M307.4,414.3 L309.9,414.2 L312.4,414.0 L314.9,413.8 L317.4,413.7 L319.9,413.5 L322.4,413.3 L324.9,413.0 L327.4,412.8 L329.9,412.6 L332.5,412.3 L335.0,412.1 L337.5,411.8 L340.0,411.5 L342.5,411.2 L345.0,410.8 L347.5,410.5 L350.0,410.1 L352.5,409.7 L355.0,409.3 L357.5,408.9 L360.0,408.5 L362.5,408.0 L365.0,407.5 L367.5,407.0 L370.0,406.5 L372.5,405.9 L375.0,405.3 L377.5,404.6 L380.0,404.0 L382.6,403.3 L385.1,402.5 L387.6,401.8 L390.1,401.0 L392.6,400.1 L395.1,399.2 L397.6,398.3 L400.1,397.3 L402.6,396.3 L405.1,395.2 L407.6,394.1 L410.1,392.9 L412.6,391.6 L415.1,390.3 L417.6,389.0 L420.1,387.6 L422.6,386.1 L425.1,384.5 L427.6,382.9 L430.1,381.2 L432.7,379.5 L435.2,377.6 L437.7,375.7 L440.2,373.7 L442.7,371.7 L445.2,369.5 L447.7,367.3 L450.2,365.0 L452.7,362.6 L455.2,360.1 L457.7,357.6 L460.2,355.0 L462.7,352.3 L465.2,349.5 L467.7,346.6 L470.2,343.7 L472.7,340.7 L475.2,337.6 L477.7,334.4 L480.2,331.2 L482.8,328.0 L485.3,324.7 L487.8,321.4 L490.3,318.0 L492.8,314.7 L495.3,311.3 L497.8,307.9 L500.3,304.6 L502.8,301.3 L505.3,298.0 L507.8,294.8 L510.3,291.7 L512.8,288.7 L515.3,285.8 L517.8,283.1 L520.3,280.5 L522.8,278.0 L525.3,275.8 L527.8,273.7 L530.3,271.9 L532.9,270.3 L535.4,269.0 L537.9,267.9 L540.4,267.1 L542.9,266.6 L545.4,266.4 L547.9,266.4 L550.4,266.8 L552.9,267.4 L555.4,268.4 L557.9,269.6 L560.4,271.1 L562.9,272.9 L565.4,274.9 L567.9,277.1 L570.4,279.6 L572.9,282.3 L575.4,285.1 L577.9,288.2 L580.4,291.4 L583.0,294.7 L585.5,298.1 L588.0,301.6 L590.5,305.2 L593.0,308.8 L595.5,312.5 L598.0,316.1 L600.5,319.8 L603.0,323.5 L605.5,327.1" stroke="#008080" stroke-width="2.9" fill="none" stroke-linejoin="round" stroke-linecap="round"/>
</g>
<path d="M139.6 92.0l5.3 9.4h-10.6z" fill="none" stroke="#505050" stroke-width="1.1" stroke-linejoin="miter"/>
<path d="M134.5 132.9a5.1 5.1 0 1 0 10.2 0a5.1 5.1 0 1 0 -10.2 0z" fill="#ff0000"/>
<path d="M139.6 162.3l6 5.5l-6 5.5l-6 -5.5z" fill="#0000ff"/>
<path d="M134.8 197.9l9.6 9.6M134.8 207.5l9.6 -9.6" fill="none" stroke="#ff80ff" stroke-width="1.1"/>
<path d="M134.4 237.6h10.4M139.6 232.4v10.4M135.9 233.9l7.4 7.4M135.9 241.3l7.4 -7.4" fill="none" stroke="#9a9a3a" stroke-width="1.2"/>
<path d="M135.9 266.5l11 6l-11 6z" fill="#800000"/>
<path d="M133.8 303.9h11.6l-5.8 10.4z" fill="#f0502d"/>
<path d="M139.6 337.2L141.0 340.9L144.9 341.1L141.8 343.5L142.9 347.3L139.6 345.1L136.3 347.3L137.4 343.5L134.3 341.1L138.2 340.9z" fill="#800080"/>
<path d="M134.1 371.2l11 12M134.1 383.2l11 -12M134.1 371.2q4 6 0 12M138.6 373.2l5 4l-5 4" fill="none" stroke="#4aa8a8" stroke-width="1.1"/>
<text transform="translate(131.7 539.4) scale(0.8667 1)" class="xt">Integrated PL Intensity (arb. units), <tspan class="it">L</tspan><tspan class="it" dy="8.5">PL</tspan></text>
<text transform="translate(24.3 435.4) rotate(-90)" class="yt">Spontaneous Emission QE, <tspan class="eta" dx="3">η</tspan></text>
<text transform="translate(130.2 39.3) scale(0.85 1)" class="pl">A1</text>
<text transform="translate(129.8 73.3) scale(0.88 1)" class="lg">Blue for display</text>
<text transform="translate(173.8 106.5) scale(0.88 1)" class="lg">77 K</text>
<text transform="translate(173.8 141.4) scale(0.88 1)" class="lg">100 K</text>
<text transform="translate(173.8 176.3) scale(0.88 1)" class="lg">200 K</text>
<text transform="translate(173.8 211.2) scale(0.88 1)" class="lg">300 K</text>
<text transform="translate(173.8 246.1) scale(0.88 1)" class="lg">400 K</text>
<text transform="translate(173.8 281) scale(0.88 1)" class="lg">500 K</text>
<text transform="translate(173.8 315.9) scale(0.88 1)" class="lg">600 K</text>
<text transform="translate(173.8 350.8) scale(0.88 1)" class="lg">700 K</text>
<text transform="translate(173.8 385.7) scale(0.88 1)" class="lg">800 K</text>
<text x="282.7" y="622.5" class="sub">a</text>
<clipPath id="clipB"><rect x="752.9" y="14.6" width="497.5" height="449.1"/></clipPath>
<path d="M752.9 463.7V454.7M752.9 14.6V23.2M756.88 463.7V454.7M756.88 14.6V23.2M760.24 463.7V454.7M760.24 14.6V23.2M763.15 463.7V454.7M763.15 14.6V23.2M765.72 463.7V454.7M765.72 14.6V23.2M768.02 463.7V446.7M768.02 14.6V31.3M783.15 463.7V454.7M783.15 14.6V23.2M791.99 463.7V454.7M791.99 14.6V23.2M798.27 463.7V454.7M798.27 14.6V23.2M803.14 463.7V454.7M803.14 14.6V23.2M807.11 463.7V454.7M807.11 14.6V23.2M810.48 463.7V454.7M810.48 14.6V23.2M813.39 463.7V454.7M813.39 14.6V23.2M815.96 463.7V454.7M815.96 14.6V23.2M818.26 463.7V446.7M818.26 14.6V31.3M833.38 463.7V454.7M833.38 14.6V23.2M842.23 463.7V454.7M842.23 14.6V23.2M848.51 463.7V454.7M848.51 14.6V23.2M853.37 463.7V454.7M853.37 14.6V23.2M857.35 463.7V454.7M857.35 14.6V23.2M860.71 463.7V454.7M860.71 14.6V23.2M863.63 463.7V454.7M863.63 14.6V23.2M866.2 463.7V454.7M866.2 14.6V23.2M868.5 463.7V446.7M868.5 14.6V31.3M883.62 463.7V454.7M883.62 14.6V23.2M892.47 463.7V454.7M892.47 14.6V23.2M898.74 463.7V454.7M898.74 14.6V23.2M903.61 463.7V454.7M903.61 14.6V23.2M907.59 463.7V454.7M907.59 14.6V23.2M910.95 463.7V454.7M910.95 14.6V23.2M913.86 463.7V454.7M913.86 14.6V23.2M916.43 463.7V454.7M916.43 14.6V23.2M918.73 463.7V446.7M918.73 14.6V31.3M933.86 463.7V454.7M933.86 14.6V23.2M942.7 463.7V454.7M942.7 14.6V23.2M948.98 463.7V454.7M948.98 14.6V23.2M953.85 463.7V454.7M953.85 14.6V23.2M957.83 463.7V454.7M957.83 14.6V23.2M961.19 463.7V454.7M961.19 14.6V23.2M964.1 463.7V454.7M964.1 14.6V23.2M966.67 463.7V454.7M966.67 14.6V23.2M968.97 463.7V446.7M968.97 14.6V31.3M984.09 463.7V454.7M984.09 14.6V23.2M992.94 463.7V454.7M992.94 14.6V23.2M999.22 463.7V454.7M999.22 14.6V23.2M1004.08 463.7V454.7M1004.08 14.6V23.2M1008.06 463.7V454.7M1008.06 14.6V23.2M1011.43 463.7V454.7M1011.43 14.6V23.2M1014.34 463.7V454.7M1014.34 14.6V23.2M1016.91 463.7V454.7M1016.91 14.6V23.2M1019.21 463.7V446.7M1019.21 14.6V31.3M1034.33 463.7V454.7M1034.33 14.6V23.2M1043.18 463.7V454.7M1043.18 14.6V23.2M1049.45 463.7V454.7M1049.45 14.6V23.2M1054.32 463.7V454.7M1054.32 14.6V23.2M1058.3 463.7V454.7M1058.3 14.6V23.2M1061.66 463.7V454.7M1061.66 14.6V23.2M1064.58 463.7V454.7M1064.58 14.6V23.2M1067.15 463.7V454.7M1067.15 14.6V23.2M1069.44 463.7V446.7M1069.44 14.6V31.3M1084.57 463.7V454.7M1084.57 14.6V23.2M1093.41 463.7V454.7M1093.41 14.6V23.2M1099.69 463.7V454.7M1099.69 14.6V23.2M1104.56 463.7V454.7M1104.56 14.6V23.2M1108.54 463.7V454.7M1108.54 14.6V23.2M1111.9 463.7V454.7M1111.9 14.6V23.2M1114.81 463.7V454.7M1114.81 14.6V23.2M1117.38 463.7V454.7M1117.38 14.6V23.2M1119.68 463.7V446.7M1119.68 14.6V31.3M1134.8 463.7V454.7M1134.8 14.6V23.2M1143.65 463.7V454.7M1143.65 14.6V23.2M1149.93 463.7V454.7M1149.93 14.6V23.2M1154.79 463.7V454.7M1154.79 14.6V23.2M1158.77 463.7V454.7M1158.77 14.6V23.2M1162.14 463.7V454.7M1162.14 14.6V23.2M1165.05 463.7V454.7M1165.05 14.6V23.2M1167.62 463.7V454.7M1167.62 14.6V23.2M1169.92 463.7V446.7M1169.92 14.6V31.3M1185.04 463.7V454.7M1185.04 14.6V23.2M1193.89 463.7V454.7M1193.89 14.6V23.2M1200.16 463.7V454.7M1200.16 14.6V23.2M1205.03 463.7V454.7M1205.03 14.6V23.2M1209.01 463.7V454.7M1209.01 14.6V23.2M1212.37 463.7V454.7M1212.37 14.6V23.2M1215.29 463.7V454.7M1215.29 14.6V23.2M1217.86 463.7V454.7M1217.86 14.6V23.2M1220.15 463.7V446.7M1220.15 14.6V31.3M1235.28 463.7V454.7M1235.28 14.6V23.2M1244.12 463.7V454.7M1244.12 14.6V23.2M1250.4 463.7V454.7M1250.4 14.6V23.2M752.9 456.22H760.9M1250.4 456.22H1244.4M752.9 441.25H760.9M1250.4 441.25H1244.4M752.9 426.28H768.6M1250.4 426.28H1240.4M752.9 411.31H760.9M1250.4 411.31H1244.4M752.9 396.34H760.9M1250.4 396.34H1244.4M752.9 381.37H760.9M1250.4 381.37H1244.4M752.9 366.4H760.9M1250.4 366.4H1244.4M752.9 351.43H768.6M1250.4 351.43H1240.4M752.9 336.46H760.9M1250.4 336.46H1244.4M752.9 321.49H760.9M1250.4 321.49H1244.4M752.9 306.51H760.9M1250.4 306.51H1244.4M752.9 291.55H760.9M1250.4 291.55H1244.4M752.9 276.58H768.6M1250.4 276.58H1240.4M752.9 261.61H760.9M1250.4 261.61H1244.4M752.9 246.64H760.9M1250.4 246.64H1244.4M752.9 231.66H760.9M1250.4 231.66H1244.4M752.9 216.7H760.9M1250.4 216.7H1244.4M752.9 201.73H768.6M1250.4 201.73H1240.4M752.9 186.76H760.9M1250.4 186.76H1244.4M752.9 171.78H760.9M1250.4 171.78H1244.4M752.9 156.82H760.9M1250.4 156.82H1244.4M752.9 141.85H760.9M1250.4 141.85H1244.4M752.9 126.88H768.6M1250.4 126.88H1240.4M752.9 111.91H760.9M1250.4 111.91H1244.4M752.9 96.94H760.9M1250.4 96.94H1244.4M752.9 81.97H760.9M1250.4 81.97H1244.4M752.9 67H760.9M1250.4 67H1244.4M752.9 52.03H768.6M1250.4 52.03H1240.4M752.9 37.06H760.9M1250.4 37.06H1244.4M752.9 22.09H760.9M1250.4 22.09H1244.4" stroke="#000" stroke-width="1.8" fill="none"/>
<rect x="752.9" y="14.6" width="497.5" height="449.1" fill="none" stroke="#000" stroke-width="2.0"/>
<text transform="translate(737.3 433.98) scale(0.85 1)" text-anchor="end" class="tl">0.0</text>
<text transform="translate(737.3 359.13) scale(0.85 1)" text-anchor="end" class="tl">0.2</text>
<text transform="translate(737.3 284.28) scale(0.85 1)" text-anchor="end" class="tl">0.4</text>
<text transform="translate(737.3 209.43) scale(0.85 1)" text-anchor="end" class="tl">0.6</text>
<text transform="translate(737.3 134.58) scale(0.85 1)" text-anchor="end" class="tl">0.8</text>
<text transform="translate(737.3 59.73) scale(0.85 1)" text-anchor="end" class="tl">1.0</text>
<text transform="translate(818.66 508.4) scale(0.87 1)" text-anchor="middle" class="tl">10<tspan dy="-15.3" class="sup">-6</tspan></text>
<text transform="translate(919.13 508.4) scale(0.87 1)" text-anchor="middle" class="tl">10<tspan dy="-15.3" class="sup">-4</tspan></text>
<text transform="translate(1019.61 508.4) scale(0.87 1)" text-anchor="middle" class="tl">10<tspan dy="-15.3" class="sup">-2</tspan></text>
<text transform="translate(1120.08 508.4) scale(0.87 1)" text-anchor="middle" class="tl">10<tspan dy="-15.3" class="sup">0</tspan></text>
<text transform="translate(1220.55 508.4) scale(0.87 1)" text-anchor="middle" class="tl">10<tspan dy="-15.3" class="sup">2</tspan></text>
<g clip-path="url(#clipB)">
<path d="M916.0 108.8l5.3 9.4h-10.6zM917.9 116.4l5.3 9.4h-10.6zM953.8 76.1l5.3 9.4h-10.6zM998.3 56.1l5.3 9.4h-10.6zM1004.7 54.6l5.3 9.4h-10.6zM1012.3 53.1l5.3 9.4h-10.6zM1032.7 50.3l5.3 9.4h-10.6zM1047.9 49.1l5.3 9.4h-10.6zM1053.0 48.8l5.3 9.4h-10.6zM1058.1 48.7l5.3 9.4h-10.6zM1060.0 48.6l5.3 9.4h-10.6zM1089.3 48.8l5.3 9.4h-10.6zM1100.7 49.5l5.3 9.4h-10.6zM1107.1 50.0l5.3 9.4h-10.6zM1113.4 50.6l5.3 9.4h-10.6zM1123.6 51.8l5.3 9.4h-10.6zM1154.1 58.3l5.3 9.4h-10.6zM1169.4 63.8l5.3 9.4h-10.6zM1184.5 66.2l5.3 9.4h-10.6zM1193.4 72.4l5.3 9.4h-10.6zM1202.3 76.3l5.3 9.4h-10.6zM1206.7 80.2l5.3 9.4h-10.6zM1210.6 83.5l5.3 9.4h-10.6zM1214.5 86.3l5.3 9.4h-10.6zM1218.4 89.6l5.3 9.4h-10.6zM1222.3 93.0l5.3 9.4h-10.6zM1225.7 96.3l5.3 9.4h-10.6zM1227.9 100.8l5.3 9.4h-10.6z" fill="none" stroke="#505050" stroke-width="1.1" stroke-linejoin="miter"/>
<path d="M910.0,131.1 L912.7,127.0 L915.4,123.1 L918.1,119.4 L920.9,115.8 L923.6,112.4 L926.3,109.1 L929.0,106.0 L931.7,103.0 L934.4,100.1 L937.1,97.4 L939.9,94.8 L942.6,92.4 L945.3,90.1 L948.0,87.9 L950.7,85.8 L953.4,83.8 L956.1,82.0 L958.9,80.2 L961.6,78.5 L964.3,77.0 L967.0,75.5 L969.7,74.1 L972.4,72.8 L975.1,71.5 L977.9,70.4 L980.6,69.3 L983.3,68.2 L986.0,67.3 L988.7,66.4 L991.4,65.5 L994.1,64.7 L996.9,64.0 L999.6,63.3 L1002.3,62.6 L1005.0,62.0 L1007.7,61.4 L1010.4,60.9 L1013.1,60.4 L1015.9,59.9 L1018.6,59.5 L1021.3,59.1 L1024.0,58.7 L1026.7,58.4 L1029.4,58.1 L1032.1,57.8 L1034.9,57.5 L1037.6,57.3 L1040.3,57.1 L1043.0,56.9 L1045.7,56.7 L1048.4,56.6 L1051.1,56.4 L1053.9,56.3 L1056.6,56.2 L1059.3,56.1 L1062.0,56.1 L1064.7,56.0 L1067.4,56.0 L1070.1,56.0 L1072.9,56.0 L1075.6,56.0 L1078.3,56.0 L1081.0,56.1 L1083.7,56.1 L1086.4,56.2 L1089.1,56.3 L1091.9,56.4 L1094.6,56.6 L1097.3,56.7 L1100.0,56.9 L1102.7,57.1 L1105.4,57.3 L1108.1,57.6 L1110.9,57.8 L1113.6,58.1 L1116.3,58.4 L1119.0,58.7 L1121.7,59.1 L1124.4,59.5 L1127.1,59.9 L1129.9,60.3 L1132.6,60.8 L1135.3,61.3 L1138.0,61.8 L1140.7,62.4 L1143.4,63.0 L1146.1,63.7 L1148.9,64.4 L1151.6,65.1 L1154.3,65.9 L1157.0,66.7 L1159.7,67.6 L1162.4,68.6 L1165.1,69.6 L1167.9,70.6 L1170.6,71.8 L1173.3,73.0 L1176.0,74.2 L1178.7,75.6 L1181.4,77.0 L1184.1,78.5 L1186.9,80.1 L1189.6,81.8 L1192.3,83.5 L1195.0,85.4 L1197.7,87.3 L1200.4,89.4 L1203.1,91.6 L1205.9,93.9 L1208.6,96.3 L1211.3,98.8 L1214.0,101.4 L1216.7,104.2 L1219.4,107.1 L1222.1,110.1 L1224.9,113.3 L1227.6,116.6 L1230.3,120.1 L1233.0,123.6" stroke="#000000" stroke-width="2.4" fill="none" stroke-linejoin="round" stroke-linecap="round"/>
<path d="M902.6 148.8a5.1 5.1 0 1 0 10.2 0a5.1 5.1 0 1 0 -10.2 0zM925.3 121.9a5.1 5.1 0 1 0 10.2 0a5.1 5.1 0 1 0 -10.2 0zM939.0 105.3a5.1 5.1 0 1 0 10.2 0a5.1 5.1 0 1 0 -10.2 0zM946.7 97.6a5.1 5.1 0 1 0 10.2 0a5.1 5.1 0 1 0 -10.2 0zM999.6 66.6a5.1 5.1 0 1 0 10.2 0a5.1 5.1 0 1 0 -10.2 0zM1004.7 65.1a5.1 5.1 0 1 0 10.2 0a5.1 5.1 0 1 0 -10.2 0zM1027.1 60.4a5.1 5.1 0 1 0 10.2 0a5.1 5.1 0 1 0 -10.2 0zM1042.8 58.5a5.1 5.1 0 1 0 10.2 0a5.1 5.1 0 1 0 -10.2 0zM1050.5 57.9a5.1 5.1 0 1 0 10.2 0a5.1 5.1 0 1 0 -10.2 0zM1096.9 58.0a5.1 5.1 0 1 0 10.2 0a5.1 5.1 0 1 0 -10.2 0zM1104.5 58.6a5.1 5.1 0 1 0 10.2 0a5.1 5.1 0 1 0 -10.2 0zM1109.6 59.1a5.1 5.1 0 1 0 10.2 0a5.1 5.1 0 1 0 -10.2 0zM1149.0 67.4a5.1 5.1 0 1 0 10.2 0a5.1 5.1 0 1 0 -10.2 0zM1164.3 73.4a5.1 5.1 0 1 0 10.2 0a5.1 5.1 0 1 0 -10.2 0zM1179.6 81.8a5.1 5.1 0 1 0 10.2 0a5.1 5.1 0 1 0 -10.2 0zM1188.5 88.0a5.1 5.1 0 1 0 10.2 0a5.1 5.1 0 1 0 -10.2 0zM1192.5 91.1a5.1 5.1 0 1 0 10.2 0a5.1 5.1 0 1 0 -10.2 0zM1196.5 94.6a5.1 5.1 0 1 0 10.2 0a5.1 5.1 0 1 0 -10.2 0zM1200.5 98.2a5.1 5.1 0 1 0 10.2 0a5.1 5.1 0 1 0 -10.2 0zM1204.5 102.2a5.1 5.1 0 1 0 10.2 0a5.1 5.1 0 1 0 -10.2 0zM1208.5 106.4a5.1 5.1 0 1 0 10.2 0a5.1 5.1 0 1 0 -10.2 0zM1212.5 110.9a5.1 5.1 0 1 0 10.2 0a5.1 5.1 0 1 0 -10.2 0zM1216.5 115.7a5.1 5.1 0 1 0 10.2 0a5.1 5.1 0 1 0 -10.2 0z" fill="#ff0000"/>
<path d="M904.9,162.7 L907.7,157.7 L910.4,152.8 L913.2,148.1 L915.9,143.5 L918.7,139.1 L921.4,134.8 L924.2,130.6 L927.0,126.7 L929.7,122.8 L932.5,119.2 L935.2,115.7 L938.0,112.3 L940.7,109.1 L943.5,106.0 L946.3,103.1 L949.0,100.3 L951.8,97.6 L954.5,95.0 L957.3,92.6 L960.0,90.3 L962.8,88.2 L965.6,86.1 L968.3,84.2 L971.1,82.3 L973.8,80.6 L976.6,78.9 L979.3,77.4 L982.1,75.9 L984.9,74.5 L987.6,73.2 L990.4,72.0 L993.1,70.8 L995.9,69.7 L998.6,68.7 L1001.4,67.7 L1004.2,66.8 L1006.9,66.0 L1009.7,65.2 L1012.4,64.4 L1015.2,63.7 L1017.9,63.1 L1020.7,62.5 L1023.5,61.9 L1026.2,61.4 L1029.0,60.9 L1031.7,60.5 L1034.5,60.1 L1037.2,59.7 L1040.0,59.3 L1042.8,59.0 L1045.5,58.7 L1048.3,58.5 L1051.0,58.2 L1053.8,58.0 L1056.5,57.8 L1059.3,57.7 L1062.1,57.5 L1064.8,57.4 L1067.6,57.3 L1070.3,57.2 L1073.1,57.2 L1075.8,57.2 L1078.6,57.1 L1081.4,57.2 L1084.1,57.2 L1086.9,57.3 L1089.6,57.3 L1092.4,57.4 L1095.1,57.6 L1097.9,57.7 L1100.7,57.9 L1103.4,58.1 L1106.2,58.3 L1108.9,58.5 L1111.7,58.8 L1114.4,59.1 L1117.2,59.4 L1120.0,59.8 L1122.7,60.2 L1125.5,60.6 L1128.2,61.1 L1131.0,61.6 L1133.7,62.1 L1136.5,62.7 L1139.3,63.3 L1142.0,63.9 L1144.8,64.6 L1147.5,65.4 L1150.3,66.2 L1153.0,67.1 L1155.8,68.0 L1158.6,68.9 L1161.3,70.0 L1164.1,71.1 L1166.8,72.3 L1169.6,73.5 L1172.3,74.8 L1175.1,76.2 L1177.9,77.7 L1180.6,79.3 L1183.4,80.9 L1186.1,82.7 L1188.9,84.6 L1191.6,86.5 L1194.4,88.6 L1197.2,90.8 L1199.9,93.1 L1202.7,95.5 L1205.4,98.1 L1208.2,100.7 L1210.9,103.6 L1213.7,106.5 L1216.5,109.6 L1219.2,112.8 L1222.0,116.2 L1224.7,119.7 L1227.5,123.4 L1230.2,127.2 L1233.0,131.2" stroke="#ff0000" stroke-width="2.5" fill="none" stroke-linejoin="round" stroke-linecap="round"/>
<path d="M925.7 321.1l6 5.5l-6 5.5l-6 -5.5zM934.0 306.6l6 5.5l-6 5.5l-6 -5.5zM941.1 293.4l6 5.5l-6 5.5l-6 -5.5zM1001.6 169.5l6 5.5l-6 5.5l-6 -5.5zM1025.0 130.6l6 5.5l-6 5.5l-6 -5.5zM1033.9 118.5l6 5.5l-6 5.5l-6 -5.5zM1040.3 110.7l6 5.5l-6 5.5l-6 -5.5zM1075.8 81.3l6 5.5l-6 5.5l-6 -5.5zM1089.3 75.4l6 5.5l-6 5.5l-6 -5.5zM1096.9 73.2l6 5.5l-6 5.5l-6 -5.5zM1104.5 71.7l6 5.5l-6 5.5l-6 -5.5zM1113.4 70.9l6 5.5l-6 5.5l-6 -5.5zM1117.3 70.9l6 5.5l-6 5.5l-6 -5.5zM1145.2 76.5l6 5.5l-6 5.5l-6 -5.5zM1152.9 80.0l6 5.5l-6 5.5l-6 -5.5zM1163.0 86.1l6 5.5l-6 5.5l-6 -5.5zM1168.1 89.8l6 5.5l-6 5.5l-6 -5.5zM1177.0 97.6l6 5.5l-6 5.5l-6 -5.5zM1181.3 101.9l6 5.5l-6 5.5l-6 -5.5zM1185.6 106.6l6 5.5l-6 5.5l-6 -5.5zM1189.9 111.6l6 5.5l-6 5.5l-6 -5.5zM1194.2 117.1l6 5.5l-6 5.5l-6 -5.5zM1198.5 123.1l6 5.5l-6 5.5l-6 -5.5zM1202.8 129.4l6 5.5l-6 5.5l-6 -5.5zM1207.1 136.1l6 5.5l-6 5.5l-6 -5.5zM1211.4 143.3l6 5.5l-6 5.5l-6 -5.5zM1215.7 150.8l6 5.5l-6 5.5l-6 -5.5zM1220.0 158.7l6 5.5l-6 5.5l-6 -5.5z" fill="#0000ff"/>
<path d="M909.8,350.8 L912.5,347.0 L915.2,343.0 L917.9,338.9 L920.7,334.7 L923.4,330.4 L926.1,325.9 L928.8,321.3 L931.5,316.5 L934.2,311.7 L937.0,306.7 L939.7,301.6 L942.4,296.4 L945.1,291.1 L947.8,285.7 L950.5,280.2 L953.3,274.7 L956.0,269.1 L958.7,263.4 L961.4,257.7 L964.1,252.0 L966.8,246.2 L969.6,240.4 L972.3,234.6 L975.0,228.9 L977.7,223.1 L980.4,217.4 L983.1,211.7 L985.8,206.1 L988.6,200.5 L991.3,195.1 L994.0,189.7 L996.7,184.3 L999.4,179.1 L1002.1,174.0 L1004.9,169.0 L1007.6,164.2 L1010.3,159.4 L1013.0,154.8 L1015.7,150.3 L1018.4,146.0 L1021.2,141.8 L1023.9,137.7 L1026.6,133.8 L1029.3,130.0 L1032.0,126.4 L1034.7,122.9 L1037.5,119.6 L1040.2,116.4 L1042.9,113.3 L1045.6,110.4 L1048.3,107.6 L1051.0,105.0 L1053.7,102.5 L1056.5,100.1 L1059.2,97.9 L1061.9,95.7 L1064.6,93.8 L1067.3,91.9 L1070.0,90.1 L1072.8,88.5 L1075.5,87.0 L1078.2,85.6 L1080.9,84.3 L1083.6,83.1 L1086.3,82.0 L1089.1,81.0 L1091.8,80.1 L1094.5,79.3 L1097.2,78.6 L1099.9,78.0 L1102.6,77.5 L1105.3,77.1 L1108.1,76.8 L1110.8,76.5 L1113.5,76.4 L1116.2,76.4 L1118.9,76.4 L1121.6,76.6 L1124.4,76.8 L1127.1,77.2 L1129.8,77.6 L1132.5,78.1 L1135.2,78.8 L1137.9,79.5 L1140.7,80.4 L1143.4,81.3 L1146.1,82.4 L1148.8,83.5 L1151.5,84.8 L1154.2,86.2 L1157.0,87.7 L1159.7,89.4 L1162.4,91.2 L1165.1,93.1 L1167.8,95.1 L1170.5,97.3 L1173.2,99.6 L1176.0,102.1 L1178.7,104.7 L1181.4,107.5 L1184.1,110.4 L1186.8,113.5 L1189.5,116.7 L1192.3,120.1 L1195.0,123.7 L1197.7,127.4 L1200.4,131.3 L1203.1,135.4 L1205.8,139.6 L1208.6,144.0 L1211.3,148.5 L1214.0,153.3 L1216.7,158.1 L1219.4,163.1 L1222.1,168.3 L1224.9,173.6 L1227.6,179.0 L1230.3,184.6 L1233.0,190.3" stroke="#0000ff" stroke-width="2.0" fill="none" stroke-linejoin="round" stroke-linecap="round"/>
<path d="M890.5 406.6l9.6 9.6M890.5 416.2l9.6 -9.6M895.5 404.9l9.6 9.6M895.5 414.5l9.6 -9.6M900.6 403.0l9.6 9.6M900.6 412.6l9.6 -9.6M924.2 391.0l9.6 9.6M924.2 400.6l9.6 -9.6M949.0 371.1l9.6 9.6M949.0 380.7l9.6 -9.6M961.7 357.2l9.6 9.6M961.7 366.8l9.6 -9.6M978.3 334.6l9.6 9.6M978.3 344.2l9.6 -9.6M1053.3 189.3l9.6 9.6M1053.3 198.9l9.6 -9.6M1081.9 140.5l9.6 9.6M1081.9 150.1l9.6 -9.6M1090.8 128.7l9.6 9.6M1090.8 138.3l9.6 -9.6M1097.2 121.3l9.6 9.6M1097.2 130.9l9.6 -9.6M1108.6 110.4l9.6 9.6M1108.6 120.0l9.6 -9.6M1146.8 95.1l9.6 9.6M1146.8 104.7l9.6 -9.6M1162.1 97.9l9.6 9.6M1162.1 107.5l9.6 -9.6M1177.3 105.9l9.6 9.6M1177.3 115.5l9.6 -9.6M1185.0 111.9l9.6 9.6M1185.0 121.5l9.6 -9.6M1188.4 115.0l9.6 9.6M1188.4 124.6l9.6 -9.6M1191.8 118.3l9.6 9.6M1191.8 127.9l9.6 -9.6M1195.2 121.9l9.6 9.6M1195.2 131.5l9.6 -9.6M1198.6 125.8l9.6 9.6M1198.6 135.4l9.6 -9.6M1202.0 130.0l9.6 9.6M1202.0 139.6l9.6 -9.6M1205.4 134.4l9.6 9.6M1205.4 144.0l9.6 -9.6M1208.8 139.1l9.6 9.6M1208.8 148.7l9.6 -9.6M1212.2 144.0l9.6 9.6M1212.2 153.6l9.6 -9.6" fill="none" stroke="#ff50ff" stroke-width="1.1"/>
<path d="M874.7,416.8 L877.7,416.2 L880.7,415.5 L883.7,414.8 L886.7,414.0 L889.8,413.1 L892.8,412.2 L895.8,411.3 L898.8,410.3 L901.8,409.2 L904.8,408.1 L907.8,406.8 L910.8,405.5 L913.8,404.2 L916.9,402.7 L919.9,401.1 L922.9,399.5 L925.9,397.7 L928.9,395.9 L931.9,393.9 L934.9,391.8 L937.9,389.6 L940.9,387.3 L944.0,384.9 L947.0,382.3 L950.0,379.6 L953.0,376.7 L956.0,373.7 L959.0,370.5 L962.0,367.2 L965.0,363.7 L968.0,360.1 L971.0,356.3 L974.1,352.3 L977.1,348.2 L980.1,343.9 L983.1,339.4 L986.1,334.8 L989.1,330.0 L992.1,325.0 L995.1,319.9 L998.1,314.7 L1001.2,309.2 L1004.2,303.7 L1007.2,298.0 L1010.2,292.2 L1013.2,286.3 L1016.2,280.3 L1019.2,274.2 L1022.2,268.0 L1025.2,261.8 L1028.3,255.5 L1031.3,249.2 L1034.3,242.9 L1037.3,236.6 L1040.3,230.3 L1043.3,224.0 L1046.3,217.8 L1049.3,211.6 L1052.3,205.5 L1055.4,199.5 L1058.4,193.6 L1061.4,187.8 L1064.4,182.2 L1067.4,176.7 L1070.4,171.3 L1073.4,166.1 L1076.4,161.1 L1079.4,156.3 L1082.5,151.6 L1085.5,147.1 L1088.5,142.8 L1091.5,138.8 L1094.5,134.9 L1097.5,131.2 L1100.5,127.7 L1103.5,124.5 L1106.5,121.4 L1109.6,118.6 L1112.6,115.9 L1115.6,113.5 L1118.6,111.2 L1121.6,109.2 L1124.6,107.4 L1127.6,105.8 L1130.6,104.3 L1133.6,103.1 L1136.7,102.1 L1139.7,101.3 L1142.7,100.6 L1145.7,100.2 L1148.7,100.0 L1151.7,99.9 L1154.7,100.1 L1157.7,100.4 L1160.7,101.0 L1163.7,101.7 L1166.8,102.7 L1169.8,103.8 L1172.8,105.2 L1175.8,106.7 L1178.8,108.5 L1181.8,110.5 L1184.8,112.6 L1187.8,115.0 L1190.8,117.6 L1193.9,120.4 L1196.9,123.4 L1199.9,126.6 L1202.9,130.0 L1205.9,133.6 L1208.9,137.5 L1211.9,141.5 L1214.9,145.8 L1217.9,150.2 L1221.0,154.9 L1224.0,159.7 L1227.0,164.7 L1230.0,169.9 L1233.0,175.2" stroke="#ff00ff" stroke-width="3.0" fill="none" stroke-linejoin="round" stroke-linecap="round"/>
<path d="M882.3 420.3h10.4M887.5 415.1v10.4M883.8 416.6l7.4 7.4M883.8 424.0l7.4 -7.4M887.4 419.6h10.4M892.6 414.4v10.4M888.9 415.9l7.4 7.4M888.9 423.3l7.4 -7.4M905.8 416.3h10.4M911.0 411.1v10.4M907.3 412.6l7.4 7.4M907.3 420.0l7.4 -7.4M933.2 408.3h10.4M938.4 403.1v10.4M934.7 404.6l7.4 7.4M934.7 412.0l7.4 -7.4M939.7 405.7h10.4M944.9 400.5v10.4M941.2 402.0l7.4 7.4M941.2 409.4l7.4 -7.4M1037.6 299.1h10.4M1042.8 293.9v10.4M1039.1 295.4l7.4 7.4M1039.1 302.8l7.4 -7.4M1068.2 238.4h10.4M1073.4 233.2v10.4M1069.7 234.7l7.4 7.4M1069.7 242.1l7.4 -7.4M1080.2 214.4h10.4M1085.4 209.2v10.4M1081.7 210.7l7.4 7.4M1081.7 218.1l7.4 -7.4M1101.9 175.0h10.4M1107.1 169.8v10.4M1103.4 171.3l7.4 7.4M1103.4 178.7l7.4 -7.4M1141.3 129.5h10.4M1146.5 124.3v10.4M1142.8 125.8l7.4 7.4M1142.8 133.2l7.4 -7.4M1157.8 123.1h10.4M1163.0 117.9v10.4M1159.3 119.4l7.4 7.4M1159.3 126.8l7.4 -7.4M1174.4 125.0h10.4M1179.6 119.8v10.4M1175.9 121.3l7.4 7.4M1175.9 128.7l7.4 -7.4M1182.0 128.6h10.4M1187.2 123.4v10.4M1183.5 124.9l7.4 7.4M1183.5 132.3l7.4 -7.4M1187.1 132.0h10.4M1192.3 126.8v10.4M1188.6 128.3l7.4 7.4M1188.6 135.7l7.4 -7.4M1190.1 134.4h10.4M1195.3 129.2v10.4M1191.6 130.7l7.4 7.4M1191.6 138.1l7.4 -7.4M1193.1 137.1h10.4M1198.3 131.9v10.4M1194.6 133.4l7.4 7.4M1194.6 140.8l7.4 -7.4M1196.1 140.0h10.4M1201.3 134.8v10.4M1197.6 136.3l7.4 7.4M1197.6 143.7l7.4 -7.4M1199.1 143.2h10.4M1204.3 138.0v10.4M1200.6 139.5l7.4 7.4M1200.6 146.9l7.4 -7.4M1202.1 146.6h10.4M1207.3 141.4v10.4M1203.6 142.9l7.4 7.4M1203.6 150.3l7.4 -7.4M1205.1 150.3h10.4M1210.3 145.1v10.4M1206.6 146.6l7.4 7.4M1206.6 154.0l7.4 -7.4" fill="none" stroke="#9a9a3a" stroke-width="1.2"/>
<path d="M874.7,421.8 L877.7,421.5 L880.7,421.1 L883.7,420.8 L886.7,420.4 L889.8,420.0 L892.8,419.6 L895.8,419.1 L898.8,418.6 L901.8,418.1 L904.8,417.6 L907.8,417.0 L910.8,416.3 L913.8,415.7 L916.9,415.0 L919.9,414.2 L922.9,413.4 L925.9,412.5 L928.9,411.6 L931.9,410.6 L934.9,409.6 L937.9,408.5 L940.9,407.3 L944.0,406.1 L947.0,404.8 L950.0,403.4 L953.0,401.9 L956.0,400.3 L959.0,398.6 L962.0,396.9 L965.0,395.0 L968.0,393.0 L971.0,390.9 L974.1,388.7 L977.1,386.4 L980.1,383.9 L983.1,381.3 L986.1,378.6 L989.1,375.8 L992.1,372.8 L995.1,369.6 L998.1,366.3 L1001.2,362.9 L1004.2,359.3 L1007.2,355.5 L1010.2,351.6 L1013.2,347.5 L1016.2,343.2 L1019.2,338.8 L1022.2,334.3 L1025.2,329.5 L1028.3,324.7 L1031.3,319.6 L1034.3,314.5 L1037.3,309.2 L1040.3,303.7 L1043.3,298.2 L1046.3,292.5 L1049.3,286.7 L1052.3,280.9 L1055.4,274.9 L1058.4,268.9 L1061.4,262.8 L1064.4,256.7 L1067.4,250.6 L1070.4,244.5 L1073.4,238.3 L1076.4,232.2 L1079.4,226.2 L1082.5,220.2 L1085.5,214.2 L1088.5,208.4 L1091.5,202.6 L1094.5,197.0 L1097.5,191.5 L1100.5,186.2 L1103.5,181.0 L1106.5,175.9 L1109.6,171.1 L1112.6,166.4 L1115.6,162.0 L1118.6,157.7 L1121.6,153.7 L1124.6,149.9 L1127.6,146.3 L1130.6,143.0 L1133.6,139.9 L1136.7,137.0 L1139.7,134.4 L1142.7,132.1 L1145.7,130.0 L1148.7,128.2 L1151.7,126.6 L1154.7,125.3 L1157.7,124.3 L1160.7,123.5 L1163.7,123.0 L1166.8,122.8 L1169.8,122.9 L1172.8,123.2 L1175.8,123.8 L1178.8,124.7 L1181.8,125.8 L1184.8,127.3 L1187.8,129.0 L1190.8,131.0 L1193.9,133.2 L1196.9,135.8 L1199.9,138.6 L1202.9,141.6 L1205.9,145.0 L1208.9,148.6 L1211.9,152.4 L1214.9,156.5 L1217.9,160.9 L1221.0,165.5 L1224.0,170.3 L1227.0,175.3 L1230.0,180.5 L1233.0,186.0" stroke="#808000" stroke-width="3.0" fill="none" stroke-linejoin="round" stroke-linecap="round"/>
<path d="M1091.9 264.9l11 6l-11 6zM1140.3 183.5l11 6l-11 6zM1150.4 172.9l11 6l-11 6zM1165.7 164.0l11 6l-11 6zM1168.3 163.4l11 6l-11 6zM1171.1 163.2l11 6l-11 6zM1173.9 163.2l11 6l-11 6zM1176.7 163.6l11 6l-11 6zM1179.5 164.4l11 6l-11 6zM1182.3 165.5l11 6l-11 6zM1185.1 166.9l11 6l-11 6zM1187.9 168.7l11 6l-11 6zM1190.7 170.9l11 6l-11 6zM1193.5 173.3l11 6l-11 6zM1196.3 176.1l11 6l-11 6zM1199.1 179.3l11 6l-11 6zM1201.9 182.7l11 6l-11 6z" fill="#800000"/>
<path d="M924.5,419.6 L927.1,419.3 L929.7,418.9 L932.3,418.4 L934.9,418.0 L937.5,417.5 L940.1,417.0 L942.6,416.5 L945.2,416.0 L947.8,415.4 L950.4,414.8 L953.0,414.2 L955.6,413.5 L958.2,412.8 L960.8,412.0 L963.4,411.3 L966.0,410.4 L968.6,409.6 L971.2,408.6 L973.8,407.7 L976.3,406.7 L978.9,405.6 L981.5,404.5 L984.1,403.3 L986.7,402.1 L989.3,400.8 L991.9,399.4 L994.5,398.0 L997.1,396.5 L999.7,394.9 L1002.3,393.3 L1004.9,391.5 L1007.5,389.7 L1010.1,387.9 L1012.6,385.9 L1015.2,383.8 L1017.8,381.7 L1020.4,379.5 L1023.0,377.1 L1025.6,374.7 L1028.2,372.1 L1030.8,369.5 L1033.4,366.8 L1036.0,363.9 L1038.6,361.0 L1041.2,357.9 L1043.8,354.8 L1046.3,351.5 L1048.9,348.1 L1051.5,344.6 L1054.1,341.0 L1056.7,337.3 L1059.3,333.5 L1061.9,329.5 L1064.5,325.5 L1067.1,321.4 L1069.7,317.2 L1072.3,312.9 L1074.9,308.5 L1077.5,304.0 L1080.0,299.4 L1082.6,294.8 L1085.2,290.1 L1087.8,285.4 L1090.4,280.6 L1093.0,275.8 L1095.6,270.9 L1098.2,266.0 L1100.8,261.2 L1103.4,256.3 L1106.0,251.4 L1108.6,246.6 L1111.2,241.8 L1113.7,237.0 L1116.3,232.4 L1118.9,227.7 L1121.5,223.2 L1124.1,218.8 L1126.7,214.5 L1129.3,210.3 L1131.9,206.2 L1134.5,202.3 L1137.1,198.6 L1139.7,195.0 L1142.3,191.7 L1144.9,188.5 L1147.4,185.5 L1150.0,182.8 L1152.6,180.2 L1155.2,177.9 L1157.8,175.9 L1160.4,174.1 L1163.0,172.6 L1165.6,171.3 L1168.2,170.4 L1170.8,169.7 L1173.4,169.3 L1176.0,169.2 L1178.6,169.3 L1181.2,169.8 L1183.7,170.6 L1186.3,171.7 L1188.9,173.0 L1191.5,174.7 L1194.1,176.6 L1196.7,178.9 L1199.3,181.4 L1201.9,184.2 L1204.5,187.3 L1207.1,190.6 L1209.7,194.2 L1212.3,198.0 L1214.9,202.1 L1217.4,206.3 L1220.0,210.8 L1222.6,215.4 L1225.2,220.2 L1227.8,225.2 L1230.4,230.3 L1233.0,235.5" stroke="#800000" stroke-width="2.8" fill="none" stroke-linejoin="round" stroke-linecap="round"/>
<path d="M1075.8 282.7h11.6l-5.8 10.4zM1115.3 216.5h11.6l-5.8 10.4zM1131.8 197.9h11.6l-5.8 10.4zM1148.3 190.0h11.6l-5.8 10.4zM1153.4 190.0h11.6l-5.8 10.4zM1156.2 190.6h11.6l-5.8 10.4zM1159.0 191.5h11.6l-5.8 10.4zM1161.8 192.8h11.6l-5.8 10.4zM1164.6 194.5h11.6l-5.8 10.4zM1167.4 196.6h11.6l-5.8 10.4zM1170.2 199.1h11.6l-5.8 10.4zM1173.0 201.8h11.6l-5.8 10.4zM1175.8 205.0h11.6l-5.8 10.4zM1178.6 208.4h11.6l-5.8 10.4zM1181.4 212.2h11.6l-5.8 10.4zM1184.2 216.3h11.6l-5.8 10.4z" fill="#f0502d"/>
<path d="M924.5,418.4 L927.1,418.0 L929.7,417.5 L932.3,417.0 L934.9,416.5 L937.5,416.0 L940.1,415.4 L942.6,414.8 L945.2,414.2 L947.8,413.5 L950.4,412.8 L953.0,412.0 L955.6,411.3 L958.2,410.5 L960.8,409.6 L963.4,408.7 L966.0,407.7 L968.6,406.7 L971.2,405.7 L973.8,404.6 L976.3,403.4 L978.9,402.2 L981.5,401.0 L984.1,399.6 L986.7,398.2 L989.3,396.7 L991.9,395.2 L994.5,393.6 L997.1,391.9 L999.7,390.1 L1002.3,388.3 L1004.9,386.4 L1007.5,384.4 L1010.1,382.3 L1012.6,380.1 L1015.2,377.8 L1017.8,375.4 L1020.4,373.0 L1023.0,370.4 L1025.6,367.7 L1028.2,364.9 L1030.8,362.1 L1033.4,359.1 L1036.0,356.0 L1038.6,352.8 L1041.2,349.5 L1043.8,346.1 L1046.3,342.6 L1048.9,339.0 L1051.5,335.3 L1054.1,331.5 L1056.7,327.6 L1059.3,323.6 L1061.9,319.5 L1064.5,315.4 L1067.1,311.1 L1069.7,306.8 L1072.3,302.4 L1074.9,298.0 L1077.5,293.5 L1080.0,288.9 L1082.6,284.3 L1085.2,279.7 L1087.8,275.1 L1090.4,270.5 L1093.0,265.8 L1095.6,261.3 L1098.2,256.7 L1100.8,252.2 L1103.4,247.7 L1106.0,243.3 L1108.6,239.0 L1111.2,234.8 L1113.7,230.8 L1116.3,226.8 L1118.9,223.0 L1121.5,219.4 L1124.1,215.9 L1126.7,212.7 L1129.3,209.6 L1131.9,206.8 L1134.5,204.2 L1137.1,201.9 L1139.7,199.8 L1142.3,198.0 L1144.9,196.5 L1147.4,195.2 L1150.0,194.3 L1152.6,193.7 L1155.2,193.4 L1157.8,193.4 L1160.4,193.7 L1163.0,194.4 L1165.6,195.4 L1168.2,196.7 L1170.8,198.3 L1173.4,200.3 L1176.0,202.5 L1178.6,205.1 L1181.2,207.9 L1183.7,211.1 L1186.3,214.5 L1188.9,218.2 L1191.5,222.1 L1194.1,226.2 L1196.7,230.6 L1199.3,235.1 L1201.9,239.8 L1204.5,244.6 L1207.1,249.6 L1209.7,254.7 L1212.3,259.9 L1214.9,265.1 L1217.4,270.4 L1220.0,275.7 L1222.6,281.1 L1225.2,286.4 L1227.8,291.7 L1230.4,296.9 L1233.0,302.1" stroke="#f05a3c" stroke-width="2.8" fill="none" stroke-linejoin="round" stroke-linecap="round"/>
<path d="M1107.1 268.1L1108.5 271.8L1112.4 271.9L1109.3 274.4L1110.4 278.2L1107.1 276.0L1103.8 278.2L1104.9 274.4L1101.8 271.9L1105.7 271.8zM1127.4 255.0L1128.8 258.7L1132.7 258.9L1129.6 261.3L1130.7 265.1L1127.4 262.9L1124.1 265.1L1125.2 261.3L1122.1 258.9L1126.0 258.7zM1141.4 256.0L1142.8 259.8L1146.7 259.9L1143.6 262.3L1144.7 266.2L1141.4 263.9L1138.1 266.2L1139.2 262.3L1136.1 259.9L1140.0 259.8zM1149.1 260.3L1150.5 264.1L1154.4 264.2L1151.3 266.6L1152.4 270.4L1149.1 268.2L1145.8 270.4L1146.9 266.6L1143.8 264.2L1147.7 264.1zM1151.7 262.3L1153.1 266.1L1157.0 266.2L1153.9 268.6L1155.0 272.4L1151.7 270.2L1148.4 272.4L1149.5 268.6L1146.4 266.2L1150.3 266.1zM1154.3 264.6L1155.7 268.3L1159.6 268.4L1156.5 270.9L1157.6 274.7L1154.3 272.5L1151.0 274.7L1152.1 270.9L1149.0 268.4L1152.9 268.3zM1156.9 267.1L1158.3 270.8L1162.2 271.0L1159.1 273.4L1160.2 277.2L1156.9 275.0L1153.6 277.2L1154.7 273.4L1151.6 271.0L1155.5 270.8zM1159.5 269.8L1160.9 273.6L1164.8 273.7L1161.7 276.1L1162.8 279.9L1159.5 277.7L1156.2 279.9L1157.3 276.1L1154.2 273.7L1158.1 273.6zM1162.1 272.8L1163.5 276.5L1167.4 276.6L1164.3 279.1L1165.4 282.9L1162.1 280.7L1158.8 282.9L1159.9 279.1L1156.8 276.6L1160.7 276.5zM1164.7 275.9L1166.1 279.6L1170.0 279.8L1166.9 282.2L1168.0 286.0L1164.7 283.8L1161.4 286.0L1162.5 282.2L1159.4 279.8L1163.3 279.6zM1167.3 279.2L1168.7 283.0L1172.6 283.1L1169.5 285.5L1170.6 289.4L1167.3 287.1L1164.0 289.4L1165.1 285.5L1162.0 283.1L1165.9 283.0zM1169.9 282.7L1171.3 286.4L1175.2 286.6L1172.1 289.0L1173.2 292.8L1169.9 290.6L1166.6 292.8L1167.7 289.0L1164.6 286.6L1168.5 286.4zM1172.5 286.3L1173.9 290.0L1177.8 290.2L1174.7 292.6L1175.8 296.4L1172.5 294.2L1169.2 296.4L1170.3 292.6L1167.2 290.2L1171.1 290.0z" fill="#800080"/>
<path d="M924.5,418.9 L927.1,418.5 L929.7,418.1 L932.3,417.6 L934.9,417.2 L937.5,416.7 L940.1,416.2 L942.6,415.6 L945.2,415.1 L947.8,414.5 L950.4,413.8 L953.0,413.2 L955.6,412.5 L958.2,411.7 L960.8,411.0 L963.4,410.2 L966.0,409.3 L968.6,408.4 L971.2,407.5 L973.8,406.5 L976.3,405.5 L978.9,404.4 L981.5,403.3 L984.1,402.1 L986.7,400.8 L989.3,399.5 L991.9,398.2 L994.5,396.7 L997.1,395.2 L999.7,393.7 L1002.3,392.1 L1004.9,390.4 L1007.5,388.6 L1010.1,386.7 L1012.6,384.8 L1015.2,382.8 L1017.8,380.7 L1020.4,378.6 L1023.0,376.3 L1025.6,374.0 L1028.2,371.5 L1030.8,369.0 L1033.4,366.4 L1036.0,363.7 L1038.6,361.0 L1041.2,358.1 L1043.8,355.2 L1046.3,352.1 L1048.9,349.0 L1051.5,345.8 L1054.1,342.6 L1056.7,339.3 L1059.3,335.9 L1061.9,332.4 L1064.5,328.9 L1067.1,325.3 L1069.7,321.7 L1072.3,318.1 L1074.9,314.5 L1077.5,310.8 L1080.0,307.2 L1082.6,303.6 L1085.2,300.0 L1087.8,296.4 L1090.4,292.9 L1093.0,289.5 L1095.6,286.2 L1098.2,283.0 L1100.8,280.0 L1103.4,277.1 L1106.0,274.3 L1108.6,271.7 L1111.2,269.4 L1113.7,267.2 L1116.3,265.3 L1118.9,263.6 L1121.5,262.2 L1124.1,261.1 L1126.7,260.3 L1129.3,259.7 L1131.9,259.5 L1134.5,259.5 L1137.1,259.9 L1139.7,260.5 L1142.3,261.5 L1144.9,262.7 L1147.4,264.3 L1150.0,266.1 L1152.6,268.2 L1155.2,270.5 L1157.8,273.1 L1160.4,275.9 L1163.0,278.9 L1165.6,282.1 L1168.2,285.5 L1170.8,289.0 L1173.4,292.6 L1176.0,296.4 L1178.6,300.2 L1181.2,304.1 L1183.7,308.0 L1186.3,312.0 L1188.9,316.0 L1191.5,319.9 L1194.1,323.9 L1196.7,327.8 L1199.3,331.7 L1201.9,335.6 L1204.5,339.3 L1207.1,343.0 L1209.7,346.6 L1212.3,350.2 L1214.9,353.6 L1217.4,356.9 L1220.0,360.2 L1222.6,363.3 L1225.2,366.3 L1227.8,369.2 L1230.4,372.0 L1233.0,374.7" stroke="#800080" stroke-width="2.8" fill="none" stroke-linejoin="round" stroke-linecap="round"/>
<path d="M1055.5 398.8l11 12M1055.5 410.8l11 -12M1055.5 398.8q4 6 0 12M1060.0 400.8l5 4l-5 4M1059.7 397.1l11 12M1059.7 409.1l11 -12M1059.7 397.1q4 6 0 12M1064.2 399.1l5 4l-5 4M1063.9 395.2l11 12M1063.9 407.2l11 -12M1063.9 395.2q4 6 0 12M1068.4 397.2l5 4l-5 4M1068.1 393.2l11 12M1068.1 405.2l11 -12M1068.1 393.2q4 6 0 12M1072.6 395.2l5 4l-5 4M1072.3 391.0l11 12M1072.3 403.0l11 -12M1072.3 391.0q4 6 0 12M1076.8 393.0l5 4l-5 4M1076.5 388.6l11 12M1076.5 400.6l11 -12M1076.5 388.6q4 6 0 12M1081.0 390.6l5 4l-5 4M1080.7 386.0l11 12M1080.7 398.0l11 -12M1080.7 386.0q4 6 0 12M1085.2 388.0l5 4l-5 4M1084.9 383.3l11 12M1084.9 395.3l11 -12M1084.9 383.3q4 6 0 12M1089.4 385.3l5 4l-5 4M1089.1 380.3l11 12M1089.1 392.3l11 -12M1089.1 380.3q4 6 0 12M1093.6 382.3l5 4l-5 4M1095.5 375.4l11 12M1095.5 387.4l11 -12M1095.5 375.4q4 6 0 12M1100.0 377.4l5 4l-5 4M1101.3 370.4l11 12M1101.3 382.4l11 -12M1101.3 370.4q4 6 0 12M1105.8 372.4l5 4l-5 4M1107.9 364.2l11 12M1107.9 376.2l11 -12M1107.9 364.2q4 6 0 12M1112.4 366.2l5 4l-5 4M1118.5 353.1l11 12M1118.5 365.1l11 -12M1118.5 353.1q4 6 0 12M1123.0 355.1l5 4l-5 4M1128.0 341.8l11 12M1128.0 353.8l11 -12M1128.0 341.8q4 6 0 12M1132.5 343.8l5 4l-5 4M1137.5 329.5l11 12M1137.5 341.5l11 -12M1137.5 329.5q4 6 0 12M1142.0 331.5l5 4l-5 4M1144.2 320.5l11 12M1144.2 332.5l11 -12M1144.2 320.5q4 6 0 12M1148.7 322.5l5 4l-5 4M1149.0 313.8l11 12M1149.0 325.8l11 -12M1149.0 313.8q4 6 0 12M1153.5 315.8l5 4l-5 4" fill="none" stroke="#4aa8a8" stroke-width="1.1"/>
<path d="M948.2,424.6 L950.7,424.5 L953.1,424.4 L955.6,424.3 L958.1,424.2 L960.5,424.1 L963.0,424.0 L965.5,423.8 L967.9,423.7 L970.4,423.6 L972.9,423.4 L975.3,423.2 L977.8,423.1 L980.3,422.9 L982.8,422.7 L985.2,422.5 L987.7,422.3 L990.2,422.1 L992.6,421.9 L995.1,421.6 L997.6,421.4 L1000.0,421.1 L1002.5,420.8 L1005.0,420.5 L1007.4,420.2 L1009.9,419.9 L1012.4,419.5 L1014.8,419.2 L1017.3,418.8 L1019.8,418.4 L1022.2,417.9 L1024.7,417.5 L1027.2,417.0 L1029.6,416.5 L1032.1,416.0 L1034.6,415.4 L1037.1,414.8 L1039.5,414.2 L1042.0,413.5 L1044.5,412.9 L1046.9,412.1 L1049.4,411.4 L1051.9,410.6 L1054.3,409.8 L1056.8,408.9 L1059.3,408.0 L1061.7,407.0 L1064.2,406.0 L1066.7,404.9 L1069.1,403.8 L1071.6,402.6 L1074.1,401.4 L1076.5,400.1 L1079.0,398.8 L1081.5,397.4 L1083.9,395.9 L1086.4,394.4 L1088.9,392.8 L1091.3,391.1 L1093.8,389.4 L1096.3,387.5 L1098.8,385.6 L1101.2,383.7 L1103.7,381.6 L1106.2,379.5 L1108.6,377.3 L1111.1,375.0 L1113.6,372.6 L1116.0,370.1 L1118.5,367.6 L1121.0,364.9 L1123.4,362.2 L1125.9,359.4 L1128.4,356.5 L1130.8,353.6 L1133.3,350.5 L1135.8,347.4 L1138.2,344.3 L1140.7,341.1 L1143.2,337.8 L1145.6,334.5 L1148.1,331.1 L1150.6,327.7 L1153.0,324.3 L1155.5,320.9 L1158.0,317.5 L1160.5,314.2 L1162.9,310.8 L1165.4,307.5 L1167.9,304.3 L1170.3,301.1 L1172.8,298.1 L1175.3,295.1 L1177.7,292.3 L1180.2,289.7 L1182.7,287.2 L1185.1,284.9 L1187.6,282.8 L1190.1,280.9 L1192.5,279.2 L1195.0,277.8 L1197.5,276.7 L1199.9,275.8 L1202.4,275.2 L1204.9,274.8 L1207.3,274.8 L1209.8,275.1 L1212.3,275.6 L1214.8,276.4 L1217.2,277.5 L1219.7,278.9 L1222.2,280.6 L1224.6,282.5 L1227.1,284.6 L1229.6,286.9 L1232.0,289.5 L1234.5,292.2 L1237.0,295.1 L1239.4,298.2 L1241.9,301.4" stroke="#008080" stroke-width="2.9" fill="none" stroke-linejoin="round" stroke-linecap="round"/>
</g>
<path d="M783.6 101.5l5.3 9.4h-10.6z" fill="none" stroke="#505050" stroke-width="1.1" stroke-linejoin="miter"/>
<path d="M778.5 142.5a5.1 5.1 0 1 0 10.2 0a5.1 5.1 0 1 0 -10.2 0z" fill="#ff0000"/>
<path d="M783.6 171.9l6 5.5l-6 5.5l-6 -5.5z" fill="#0000ff"/>
<path d="M778.8 207.6l9.6 9.6M778.8 217.2l9.6 -9.6" fill="none" stroke="#ff80ff" stroke-width="1.1"/>
<path d="M778.4 247.3h10.4M783.6 242.1v10.4M779.9 243.6l7.4 7.4M779.9 251.0l7.4 -7.4" fill="none" stroke="#9a9a3a" stroke-width="1.2"/>
<path d="M779.9 276.3l11 6l-11 6z" fill="#800000"/>
<path d="M777.8 313.8h11.6l-5.8 10.4z" fill="#f0502d"/>
<path d="M783.6 347.1L785.0 350.9L788.9 351.0L785.8 353.4L786.9 357.3L783.6 355.0L780.3 357.3L781.4 353.4L778.3 351.0L782.2 350.9z" fill="#800080"/>
<path d="M778.1 381.2l11 12M778.1 393.2l11 -12M778.1 381.2q4 6 0 12M782.6 383.2l5 4l-5 4" fill="none" stroke="#4aa8a8" stroke-width="1.1"/>
<text transform="translate(775.2 549) scale(0.8558 1)" class="xt">Integrated PL Intensity (arb. units), <tspan class="it">L</tspan><tspan class="it" dy="8.5">PL</tspan></text>
<text transform="translate(670.2 444.4) rotate(-90)" class="yt">Spontaneous Emission QE, <tspan class="eta" dx="3">η</tspan></text>
<text transform="translate(768.6 48.1) scale(0.85 1)" class="pl">A2</text>
<text transform="translate(767.9 82.7) scale(0.869 1)" class="lg">Blue for lighting</text>
<text transform="translate(818.2 116) scale(0.88 1)" class="lg">77 K</text>
<text transform="translate(818.2 150.96) scale(0.88 1)" class="lg">100 K</text>
<text transform="translate(818.2 185.92) scale(0.88 1)" class="lg">200 K</text>
<text transform="translate(818.2 220.88) scale(0.88 1)" class="lg">300 K</text>
<text transform="translate(818.2 255.84) scale(0.88 1)" class="lg">400 K</text>
<text transform="translate(818.2 290.8) scale(0.88 1)" class="lg">500 K</text>
<text transform="translate(818.2 325.76) scale(0.88 1)" class="lg">600 K</text>
<text transform="translate(818.2 360.72) scale(0.88 1)" class="lg">700 K</text>
<text transform="translate(818.2 395.68) scale(0.88 1)" class="lg">800 K</text>
<text x="944.4" y="628.3" class="sub">b</text>
<clipPath id="clipC"><rect x="1389.3" y="27" width="503.5" height="449.3"/></clipPath>
<path d="M1389.3 476.3V467.3M1389.3 27V35.6M1393.33 476.3V467.3M1393.33 27V35.6M1396.73 476.3V467.3M1396.73 27V35.6M1399.68 476.3V467.3M1399.68 27V35.6M1402.28 476.3V467.3M1402.28 27V35.6M1404.61 476.3V459.3M1404.61 27V43.7M1419.91 476.3V467.3M1419.91 27V35.6M1428.86 476.3V467.3M1428.86 27V35.6M1435.22 476.3V467.3M1435.22 27V35.6M1440.14 476.3V467.3M1440.14 27V35.6M1444.17 476.3V467.3M1444.17 27V35.6M1447.57 476.3V467.3M1447.57 27V35.6M1450.52 476.3V467.3M1450.52 27V35.6M1453.12 476.3V467.3M1453.12 27V35.6M1455.45 476.3V459.3M1455.45 27V43.7M1470.75 476.3V467.3M1470.75 27V35.6M1479.71 476.3V467.3M1479.71 27V35.6M1486.06 476.3V467.3M1486.06 27V35.6M1490.99 476.3V467.3M1490.99 27V35.6M1495.01 476.3V467.3M1495.01 27V35.6M1498.41 476.3V467.3M1498.41 27V35.6M1501.36 476.3V467.3M1501.36 27V35.6M1503.96 476.3V467.3M1503.96 27V35.6M1506.29 476.3V459.3M1506.29 27V43.7M1521.6 476.3V467.3M1521.6 27V35.6M1530.55 476.3V467.3M1530.55 27V35.6M1536.9 476.3V467.3M1536.9 27V35.6M1541.83 476.3V467.3M1541.83 27V35.6M1545.85 476.3V467.3M1545.85 27V35.6M1549.26 476.3V467.3M1549.26 27V35.6M1552.21 476.3V467.3M1552.21 27V35.6M1554.81 476.3V467.3M1554.81 27V35.6M1557.13 476.3V459.3M1557.13 27V43.7M1572.44 476.3V467.3M1572.44 27V35.6M1581.39 476.3V467.3M1581.39 27V35.6M1587.74 476.3V467.3M1587.74 27V35.6M1592.67 476.3V467.3M1592.67 27V35.6M1596.7 476.3V467.3M1596.7 27V35.6M1600.1 476.3V467.3M1600.1 27V35.6M1603.05 476.3V467.3M1603.05 27V35.6M1605.65 476.3V467.3M1605.65 27V35.6M1607.98 476.3V459.3M1607.98 27V43.7M1623.28 476.3V467.3M1623.28 27V35.6M1632.23 476.3V467.3M1632.23 27V35.6M1638.59 476.3V467.3M1638.59 27V35.6M1643.51 476.3V467.3M1643.51 27V35.6M1647.54 476.3V467.3M1647.54 27V35.6M1650.94 476.3V467.3M1650.94 27V35.6M1653.89 476.3V467.3M1653.89 27V35.6M1656.49 476.3V467.3M1656.49 27V35.6M1658.82 476.3V459.3M1658.82 27V43.7M1674.12 476.3V467.3M1674.12 27V35.6M1683.08 476.3V467.3M1683.08 27V35.6M1689.43 476.3V467.3M1689.43 27V35.6M1694.36 476.3V467.3M1694.36 27V35.6M1698.38 476.3V467.3M1698.38 27V35.6M1701.79 476.3V467.3M1701.79 27V35.6M1704.73 476.3V467.3M1704.73 27V35.6M1707.34 476.3V467.3M1707.34 27V35.6M1709.66 476.3V459.3M1709.66 27V43.7M1724.97 476.3V467.3M1724.97 27V35.6M1733.92 476.3V467.3M1733.92 27V35.6M1740.27 476.3V467.3M1740.27 27V35.6M1745.2 476.3V467.3M1745.2 27V35.6M1749.22 476.3V467.3M1749.22 27V35.6M1752.63 476.3V467.3M1752.63 27V35.6M1755.58 476.3V467.3M1755.58 27V35.6M1758.18 476.3V467.3M1758.18 27V35.6M1760.5 476.3V459.3M1760.5 27V43.7M1775.81 476.3V467.3M1775.81 27V35.6M1784.76 476.3V467.3M1784.76 27V35.6M1791.11 476.3V467.3M1791.11 27V35.6M1796.04 476.3V467.3M1796.04 27V35.6M1800.07 476.3V467.3M1800.07 27V35.6M1803.47 476.3V467.3M1803.47 27V35.6M1806.42 476.3V467.3M1806.42 27V35.6M1809.02 476.3V467.3M1809.02 27V35.6M1811.35 476.3V459.3M1811.35 27V43.7M1826.65 476.3V467.3M1826.65 27V35.6M1835.61 476.3V467.3M1835.61 27V35.6M1841.96 476.3V467.3M1841.96 27V35.6M1846.88 476.3V467.3M1846.88 27V35.6M1850.91 476.3V467.3M1850.91 27V35.6M1854.31 476.3V467.3M1854.31 27V35.6M1857.26 476.3V467.3M1857.26 27V35.6M1859.86 476.3V467.3M1859.86 27V35.6M1862.19 476.3V459.3M1862.19 27V43.7M1877.49 476.3V467.3M1877.49 27V35.6M1886.45 476.3V467.3M1886.45 27V35.6M1892.8 476.3V467.3M1892.8 27V35.6M1389.3 468.81H1397.3M1892.8 468.81H1886.8M1389.3 453.84H1397.3M1892.8 453.84H1886.8M1389.3 438.86H1405M1892.8 438.86H1882.8M1389.3 423.88H1397.3M1892.8 423.88H1886.8M1389.3 408.91H1397.3M1892.8 408.91H1886.8M1389.3 393.93H1397.3M1892.8 393.93H1886.8M1389.3 378.95H1397.3M1892.8 378.95H1886.8M1389.3 363.98H1405M1892.8 363.98H1882.8M1389.3 349H1397.3M1892.8 349H1886.8M1389.3 334.02H1397.3M1892.8 334.02H1886.8M1389.3 319.05H1397.3M1892.8 319.05H1886.8M1389.3 304.07H1397.3M1892.8 304.07H1886.8M1389.3 289.09H1405M1892.8 289.09H1882.8M1389.3 274.12H1397.3M1892.8 274.12H1886.8M1389.3 259.14H1397.3M1892.8 259.14H1886.8M1389.3 244.16H1397.3M1892.8 244.16H1886.8M1389.3 229.19H1397.3M1892.8 229.19H1886.8M1389.3 214.21H1405M1892.8 214.21H1882.8M1389.3 199.23H1397.3M1892.8 199.23H1886.8M1389.3 184.26H1397.3M1892.8 184.26H1886.8M1389.3 169.28H1397.3M1892.8 169.28H1886.8M1389.3 154.3H1397.3M1892.8 154.3H1886.8M1389.3 139.33H1405M1892.8 139.33H1882.8M1389.3 124.35H1397.3M1892.8 124.35H1886.8M1389.3 109.37H1397.3M1892.8 109.37H1886.8M1389.3 94.4H1397.3M1892.8 94.4H1886.8M1389.3 79.42H1397.3M1892.8 79.42H1886.8M1389.3 64.44H1405M1892.8 64.44H1882.8M1389.3 49.47H1397.3M1892.8 49.47H1886.8M1389.3 34.49H1397.3M1892.8 34.49H1886.8" stroke="#000" stroke-width="1.8" fill="none"/>
<rect x="1389.3" y="27" width="503.5" height="449.3" fill="none" stroke="#000" stroke-width="2.0"/>
<text transform="translate(1372.8 446.56) scale(0.855 1)" text-anchor="end" class="tl">0.0</text>
<text transform="translate(1372.8 371.68) scale(0.855 1)" text-anchor="end" class="tl">0.2</text>
<text transform="translate(1372.8 296.79) scale(0.855 1)" text-anchor="end" class="tl">0.4</text>
<text transform="translate(1372.8 221.91) scale(0.855 1)" text-anchor="end" class="tl">0.6</text>
<text transform="translate(1372.8 147.03) scale(0.855 1)" text-anchor="end" class="tl">0.8</text>
<text transform="translate(1372.8 72.14) scale(0.855 1)" text-anchor="end" class="tl">1.0</text>
<text transform="translate(1455.85 520.1) scale(0.87 1)" text-anchor="middle" class="tl">10<tspan dy="-15.3" class="sup">-6</tspan></text>
<text transform="translate(1557.53 520.1) scale(0.87 1)" text-anchor="middle" class="tl">10<tspan dy="-15.3" class="sup">-4</tspan></text>
<text transform="translate(1659.22 520.1) scale(0.87 1)" text-anchor="middle" class="tl">10<tspan dy="-15.3" class="sup">-2</tspan></text>
<text transform="translate(1760.9 520.1) scale(0.87 1)" text-anchor="middle" class="tl">10<tspan dy="-15.3" class="sup">0</tspan></text>
<text transform="translate(1862.59 520.1) scale(0.87 1)" text-anchor="middle" class="tl">10<tspan dy="-15.3" class="sup">2</tspan></text>
<g clip-path="url(#clipC)">
<path d="M1584.0 94.0l5.3 9.4h-10.6zM1589.1 90.0l5.3 9.4h-10.6zM1629.8 69.9l5.3 9.4h-10.6zM1638.7 67.5l5.3 9.4h-10.6zM1646.3 65.9l5.3 9.4h-10.6zM1660.3 63.7l5.3 9.4h-10.6zM1694.7 61.3l5.3 9.4h-10.6zM1711.6 61.2l5.3 9.4h-10.6zM1723.1 61.5l5.3 9.4h-10.6zM1739.6 62.4l5.3 9.4h-10.6zM1751.0 63.4l5.3 9.4h-10.6zM1758.7 64.3l5.3 9.4h-10.6zM1766.3 65.4l5.3 9.4h-10.6zM1798.1 72.3l5.3 9.4h-10.6zM1814.6 78.1l5.3 9.4h-10.6zM1823.8 79.1l5.3 9.4h-10.6zM1832.1 84.2l5.3 9.4h-10.6zM1844.1 91.8l5.3 9.4h-10.6zM1849.2 95.6l5.3 9.4h-10.6zM1854.3 99.4l5.3 9.4h-10.6zM1858.1 102.6l5.3 9.4h-10.6zM1861.9 106.4l5.3 9.4h-10.6zM1865.7 110.2l5.3 9.4h-10.6zM1869.6 114.7l5.3 9.4h-10.6zM1873.4 119.7l5.3 9.4h-10.6zM1877.2 124.8l5.3 9.4h-10.6zM1879.7 128.6l5.3 9.4h-10.6zM1883.5 133.7l5.3 9.4h-10.6zM1885.4 137.5l5.3 9.4h-10.6z" fill="none" stroke="#505050" stroke-width="1.1" stroke-linejoin="miter"/>
<path d="M1548.3,143.9 L1551.1,139.6 L1553.8,135.5 L1556.6,131.6 L1559.3,127.9 L1562.1,124.3 L1564.8,120.9 L1567.6,117.7 L1570.3,114.6 L1573.1,111.7 L1575.8,108.9 L1578.6,106.3 L1581.3,103.8 L1584.1,101.4 L1586.9,99.2 L1589.6,97.1 L1592.4,95.1 L1595.1,93.2 L1597.9,91.5 L1600.6,89.8 L1603.4,88.3 L1606.1,86.8 L1608.9,85.4 L1611.6,84.1 L1614.4,82.9 L1617.1,81.8 L1619.9,80.7 L1622.7,79.7 L1625.4,78.8 L1628.2,77.9 L1630.9,77.1 L1633.7,76.3 L1636.4,75.6 L1639.2,74.9 L1641.9,74.3 L1644.7,73.7 L1647.4,73.2 L1650.2,72.7 L1652.9,72.3 L1655.7,71.9 L1658.5,71.5 L1661.2,71.1 L1664.0,70.8 L1666.7,70.5 L1669.5,70.2 L1672.2,70.0 L1675.0,69.7 L1677.7,69.5 L1680.5,69.4 L1683.2,69.2 L1686.0,69.1 L1688.7,69.0 L1691.5,68.9 L1694.3,68.8 L1697.0,68.7 L1699.8,68.7 L1702.5,68.6 L1705.3,68.6 L1708.0,68.6 L1710.8,68.7 L1713.5,68.7 L1716.3,68.8 L1719.0,68.8 L1721.8,68.9 L1724.5,69.0 L1727.3,69.1 L1730.0,69.3 L1732.8,69.4 L1735.6,69.6 L1738.3,69.8 L1741.1,70.0 L1743.8,70.2 L1746.6,70.5 L1749.3,70.7 L1752.1,71.0 L1754.8,71.3 L1757.6,71.7 L1760.3,72.0 L1763.1,72.4 L1765.8,72.8 L1768.6,73.2 L1771.4,73.7 L1774.1,74.2 L1776.9,74.7 L1779.6,75.2 L1782.4,75.8 L1785.1,76.4 L1787.9,77.1 L1790.6,77.8 L1793.4,78.5 L1796.1,79.2 L1798.9,80.1 L1801.6,80.9 L1804.4,81.8 L1807.2,82.8 L1809.9,83.8 L1812.7,84.8 L1815.4,86.0 L1818.2,87.1 L1820.9,88.4 L1823.7,89.7 L1826.4,91.0 L1829.2,92.5 L1831.9,94.0 L1834.7,95.6 L1837.4,97.2 L1840.2,99.0 L1843.0,100.8 L1845.7,102.7 L1848.5,104.7 L1851.2,106.8 L1854.0,109.0 L1856.7,111.3 L1859.5,113.6 L1862.2,116.1 L1865.0,118.7 L1867.7,121.4 L1870.5,124.2 L1873.2,127.2 L1876.0,130.2" stroke="#000000" stroke-width="2.4" fill="none" stroke-linejoin="round" stroke-linecap="round"/>
<path d="M1580.1 113.7a5.1 5.1 0 1 0 10.2 0a5.1 5.1 0 1 0 -10.2 0zM1584.0 109.8a5.1 5.1 0 1 0 10.2 0a5.1 5.1 0 1 0 -10.2 0zM1634.9 79.4a5.1 5.1 0 1 0 10.2 0a5.1 5.1 0 1 0 -10.2 0zM1643.8 76.7a5.1 5.1 0 1 0 10.2 0a5.1 5.1 0 1 0 -10.2 0zM1650.6 75.1a5.1 5.1 0 1 0 10.2 0a5.1 5.1 0 1 0 -10.2 0zM1662.8 72.8a5.1 5.1 0 1 0 10.2 0a5.1 5.1 0 1 0 -10.2 0zM1690.3 69.8a5.1 5.1 0 1 0 10.2 0a5.1 5.1 0 1 0 -10.2 0zM1701.4 69.3a5.1 5.1 0 1 0 10.2 0a5.1 5.1 0 1 0 -10.2 0zM1710.3 69.2a5.1 5.1 0 1 0 10.2 0a5.1 5.1 0 1 0 -10.2 0zM1726.9 69.5a5.1 5.1 0 1 0 10.2 0a5.1 5.1 0 1 0 -10.2 0zM1739.6 70.2a5.1 5.1 0 1 0 10.2 0a5.1 5.1 0 1 0 -10.2 0zM1749.8 71.2a5.1 5.1 0 1 0 10.2 0a5.1 5.1 0 1 0 -10.2 0zM1757.4 72.1a5.1 5.1 0 1 0 10.2 0a5.1 5.1 0 1 0 -10.2 0zM1790.4 79.3a5.1 5.1 0 1 0 10.2 0a5.1 5.1 0 1 0 -10.2 0zM1807.0 85.6a5.1 5.1 0 1 0 10.2 0a5.1 5.1 0 1 0 -10.2 0zM1822.5 92.7a5.1 5.1 0 1 0 10.2 0a5.1 5.1 0 1 0 -10.2 0zM1831.4 100.3a5.1 5.1 0 1 0 10.2 0a5.1 5.1 0 1 0 -10.2 0zM1837.1 104.3a5.1 5.1 0 1 0 10.2 0a5.1 5.1 0 1 0 -10.2 0zM1840.4 107.1a5.1 5.1 0 1 0 10.2 0a5.1 5.1 0 1 0 -10.2 0zM1843.7 110.1a5.1 5.1 0 1 0 10.2 0a5.1 5.1 0 1 0 -10.2 0zM1847.0 113.2a5.1 5.1 0 1 0 10.2 0a5.1 5.1 0 1 0 -10.2 0zM1850.3 116.5a5.1 5.1 0 1 0 10.2 0a5.1 5.1 0 1 0 -10.2 0zM1853.6 120.0a5.1 5.1 0 1 0 10.2 0a5.1 5.1 0 1 0 -10.2 0zM1856.9 123.7a5.1 5.1 0 1 0 10.2 0a5.1 5.1 0 1 0 -10.2 0zM1860.2 127.7a5.1 5.1 0 1 0 10.2 0a5.1 5.1 0 1 0 -10.2 0zM1863.5 131.8a5.1 5.1 0 1 0 10.2 0a5.1 5.1 0 1 0 -10.2 0zM1866.8 136.1a5.1 5.1 0 1 0 10.2 0a5.1 5.1 0 1 0 -10.2 0zM1870.1 140.6a5.1 5.1 0 1 0 10.2 0a5.1 5.1 0 1 0 -10.2 0z" fill="#ff0000"/>
<path d="M1543.3,174.1 L1546.1,168.9 L1548.9,163.9 L1551.7,159.1 L1554.5,154.4 L1557.3,149.9 L1560.1,145.5 L1562.9,141.3 L1565.7,137.3 L1568.5,133.4 L1571.3,129.7 L1574.1,126.1 L1576.9,122.8 L1579.7,119.5 L1582.5,116.4 L1585.4,113.5 L1588.2,110.7 L1591.0,108.1 L1593.8,105.5 L1596.6,103.1 L1599.4,100.9 L1602.2,98.7 L1605.0,96.7 L1607.8,94.8 L1610.6,93.0 L1613.4,91.3 L1616.2,89.7 L1619.0,88.2 L1621.8,86.7 L1624.6,85.4 L1627.4,84.1 L1630.2,82.9 L1633.0,81.8 L1635.8,80.8 L1638.6,79.8 L1641.4,78.9 L1644.2,78.0 L1647.0,77.2 L1649.8,76.5 L1652.6,75.8 L1655.4,75.1 L1658.2,74.5 L1661.0,74.0 L1663.8,73.5 L1666.6,73.0 L1669.5,72.5 L1672.3,72.1 L1675.1,71.7 L1677.9,71.4 L1680.7,71.1 L1683.5,70.8 L1686.3,70.5 L1689.1,70.3 L1691.9,70.1 L1694.7,69.9 L1697.5,69.7 L1700.3,69.6 L1703.1,69.5 L1705.9,69.4 L1708.7,69.3 L1711.5,69.2 L1714.3,69.2 L1717.1,69.2 L1719.9,69.2 L1722.7,69.2 L1725.5,69.3 L1728.3,69.4 L1731.1,69.5 L1733.9,69.6 L1736.7,69.7 L1739.5,69.9 L1742.3,70.0 L1745.1,70.2 L1747.9,70.5 L1750.7,70.7 L1753.6,71.0 L1756.4,71.3 L1759.2,71.7 L1762.0,72.0 L1764.8,72.4 L1767.6,72.8 L1770.4,73.3 L1773.2,73.8 L1776.0,74.3 L1778.8,74.9 L1781.6,75.5 L1784.4,76.2 L1787.2,76.9 L1790.0,77.6 L1792.8,78.4 L1795.6,79.3 L1798.4,80.2 L1801.2,81.2 L1804.0,82.2 L1806.8,83.3 L1809.6,84.5 L1812.4,85.7 L1815.2,87.0 L1818.0,88.4 L1820.8,89.9 L1823.6,91.5 L1826.4,93.1 L1829.2,94.9 L1832.0,96.7 L1834.8,98.7 L1837.7,100.7 L1840.5,102.9 L1843.3,105.2 L1846.1,107.6 L1848.9,110.1 L1851.7,112.8 L1854.5,115.6 L1857.3,118.5 L1860.1,121.6 L1862.9,124.8 L1865.7,128.1 L1868.5,131.6 L1871.3,135.3 L1874.1,139.1 L1876.9,143.0" stroke="#ff0000" stroke-width="2.5" fill="none" stroke-linejoin="round" stroke-linecap="round"/>
<path d="M1578.9 341.6l6 5.5l-6 5.5l-6 -5.5zM1582.7 335.7l6 5.5l-6 5.5l-6 -5.5zM1586.5 329.5l6 5.5l-6 5.5l-6 -5.5zM1591.6 320.8l6 5.5l-6 5.5l-6 -5.5zM1610.7 285.2l6 5.5l-6 5.5l-6 -5.5zM1620.9 264.7l6 5.5l-6 5.5l-6 -5.5zM1628.5 249.2l6 5.5l-6 5.5l-6 -5.5zM1651.4 203.4l6 5.5l-6 5.5l-6 -5.5zM1664.1 180.3l6 5.5l-6 5.5l-6 -5.5zM1676.8 159.9l6 5.5l-6 5.5l-6 -5.5zM1681.9 152.6l6 5.5l-6 5.5l-6 -5.5zM1735.8 110.4l6 5.5l-6 5.5l-6 -5.5zM1821.0 177.6l6 5.5l-6 5.5l-6 -5.5zM1832.4 198.6l6 5.5l-6 5.5l-6 -5.5zM1849.0 232.3l6 5.5l-6 5.5l-6 -5.5zM1856.6 248.3l6 5.5l-6 5.5l-6 -5.5zM1862.9 261.7l6 5.5l-6 5.5l-6 -5.5zM1868.0 272.4l6 5.5l-6 5.5l-6 -5.5zM1871.8 280.3l6 5.5l-6 5.5l-6 -5.5z" fill="#0000ff"/>
<path d="M1548.3,385.9 L1551.0,383.0 L1553.8,380.1 L1556.5,377.0 L1559.3,373.8 L1562.0,370.5 L1564.7,367.1 L1567.5,363.5 L1570.2,359.8 L1573.0,355.9 L1575.7,351.9 L1578.4,347.8 L1581.2,343.6 L1583.9,339.2 L1586.7,334.7 L1589.4,330.1 L1592.1,325.4 L1594.9,320.5 L1597.6,315.6 L1600.4,310.5 L1603.1,305.4 L1605.8,300.2 L1608.6,294.8 L1611.3,289.5 L1614.1,284.0 L1616.8,278.5 L1619.5,273.0 L1622.3,267.4 L1625.0,261.8 L1627.8,256.2 L1630.5,250.6 L1633.3,245.0 L1636.0,239.4 L1638.7,233.8 L1641.5,228.3 L1644.2,222.9 L1647.0,217.5 L1649.7,212.2 L1652.4,206.9 L1655.2,201.8 L1657.9,196.7 L1660.7,191.8 L1663.4,187.0 L1666.1,182.3 L1668.9,177.8 L1671.6,173.4 L1674.4,169.1 L1677.1,165.0 L1679.8,161.0 L1682.6,157.2 L1685.3,153.5 L1688.1,150.0 L1690.8,146.7 L1693.5,143.5 L1696.3,140.5 L1699.0,137.7 L1701.8,135.0 L1704.5,132.5 L1707.2,130.2 L1710.0,128.0 L1712.7,126.0 L1715.5,124.2 L1718.2,122.5 L1720.9,121.0 L1723.7,119.7 L1726.4,118.6 L1729.2,117.6 L1731.9,116.7 L1734.6,116.1 L1737.4,115.6 L1740.1,115.3 L1742.9,115.1 L1745.6,115.1 L1748.3,115.3 L1751.1,115.7 L1753.8,116.2 L1756.6,116.9 L1759.3,117.7 L1762.0,118.8 L1764.8,120.0 L1767.5,121.3 L1770.3,122.9 L1773.0,124.6 L1775.7,126.5 L1778.5,128.6 L1781.2,130.8 L1784.0,133.2 L1786.7,135.8 L1789.4,138.6 L1792.2,141.6 L1794.9,144.7 L1797.7,148.0 L1800.4,151.5 L1803.2,155.2 L1805.9,159.0 L1808.6,163.0 L1811.4,167.2 L1814.1,171.5 L1816.9,176.0 L1819.6,180.7 L1822.3,185.4 L1825.1,190.4 L1827.8,195.4 L1830.6,200.6 L1833.3,205.9 L1836.0,211.2 L1838.8,216.7 L1841.5,222.3 L1844.3,227.9 L1847.0,233.6 L1849.7,239.3 L1852.5,245.1 L1855.2,250.9 L1858.0,256.7 L1860.7,262.5 L1863.4,268.3 L1866.2,274.1 L1868.9,279.8 L1871.7,285.5 L1874.4,291.1" stroke="#0000ff" stroke-width="2.0" fill="none" stroke-linejoin="round" stroke-linecap="round"/>
<path d="M1576.6 414.9l9.6 9.6M1576.6 424.5l9.6 -9.6M1580.4 413.3l9.6 9.6M1580.4 422.9l9.6 -9.6M1584.2 411.6l9.6 9.6M1584.2 421.2l9.6 -9.6M1588.1 409.7l9.6 9.6M1588.1 419.3l9.6 -9.6M1607.2 398.1l9.6 9.6M1607.2 407.7l9.6 -9.6M1614.8 392.3l9.6 9.6M1614.8 401.9l9.6 -9.6M1622.4 385.7l9.6 9.6M1622.4 395.3l9.6 -9.6M1645.3 360.1l9.6 9.6M1645.3 369.7l9.6 -9.6M1658.0 342.1l9.6 9.6M1658.0 351.7l9.6 -9.6M1673.3 316.7l9.6 9.6M1673.3 326.3l9.6 -9.6M1678.2 307.9l9.6 9.6M1678.2 317.5l9.6 -9.6M1691.1 283.3l9.6 9.6M1691.1 292.9l9.6 -9.6M1723.3 219.0l9.6 9.6M1723.3 228.6l9.6 -9.6M1789.5 133.8l9.6 9.6M1789.5 143.4l9.6 -9.6M1798.4 131.0l9.6 9.6M1798.4 140.6l9.6 -9.6M1803.5 130.4l9.6 9.6M1803.5 140.0l9.6 -9.6M1814.9 132.0l9.6 9.6M1814.9 141.6l9.6 -9.6M1823.8 135.9l9.6 9.6M1823.8 145.5l9.6 -9.6M1835.2 144.3l9.6 9.6M1835.2 153.9l9.6 -9.6M1839.1 148.1l9.6 9.6M1839.1 157.7l9.6 -9.6M1844.2 153.7l9.6 9.6M1844.2 163.3l9.6 -9.6M1848.0 158.3l9.6 9.6M1848.0 167.9l9.6 -9.6" fill="none" stroke="#ff50ff" stroke-width="1.1"/>
<path d="M1512.7,434.5 L1515.8,434.2 L1518.8,433.9 L1521.9,433.5 L1524.9,433.1 L1528.0,432.8 L1531.0,432.3 L1534.1,431.9 L1537.1,431.4 L1540.2,430.9 L1543.2,430.4 L1546.3,429.8 L1549.3,429.2 L1552.4,428.5 L1555.4,427.8 L1558.5,427.1 L1561.5,426.3 L1564.6,425.4 L1567.6,424.5 L1570.7,423.6 L1573.7,422.6 L1576.8,421.5 L1579.8,420.3 L1582.9,419.1 L1585.9,417.8 L1589.0,416.4 L1592.0,414.9 L1595.1,413.4 L1598.1,411.7 L1601.2,410.0 L1604.2,408.1 L1607.3,406.2 L1610.3,404.1 L1613.4,401.9 L1616.4,399.6 L1619.5,397.2 L1622.5,394.7 L1625.6,392.0 L1628.6,389.1 L1631.7,386.1 L1634.7,383.0 L1637.8,379.7 L1640.8,376.3 L1643.9,372.7 L1646.9,369.0 L1650.0,365.1 L1653.0,361.0 L1656.1,356.8 L1659.1,352.4 L1662.2,347.8 L1665.2,343.1 L1668.3,338.2 L1671.3,333.2 L1674.4,328.0 L1677.4,322.7 L1680.5,317.3 L1683.5,311.7 L1686.6,306.1 L1689.6,300.3 L1692.7,294.4 L1695.7,288.4 L1698.8,282.4 L1701.8,276.3 L1704.9,270.2 L1707.9,264.0 L1711.0,257.9 L1714.0,251.7 L1717.1,245.6 L1720.1,239.4 L1723.2,233.4 L1726.2,227.4 L1729.3,221.5 L1732.3,215.7 L1735.4,210.1 L1738.4,204.5 L1741.5,199.1 L1744.5,193.9 L1747.6,188.8 L1750.6,183.9 L1753.7,179.2 L1756.7,174.7 L1759.8,170.4 L1762.8,166.4 L1765.9,162.5 L1768.9,158.9 L1772.0,155.5 L1775.0,152.4 L1778.1,149.5 L1781.1,146.9 L1784.2,144.6 L1787.2,142.5 L1790.3,140.6 L1793.3,139.0 L1796.4,137.7 L1799.4,136.7 L1802.5,135.9 L1805.5,135.4 L1808.6,135.2 L1811.6,135.3 L1814.7,135.6 L1817.7,136.2 L1820.8,137.1 L1823.8,138.3 L1826.9,139.7 L1829.9,141.5 L1833.0,143.5 L1836.0,145.7 L1839.1,148.3 L1842.1,151.1 L1845.2,154.2 L1848.2,157.6 L1851.3,161.3 L1854.3,165.2 L1857.4,169.3 L1860.4,173.7 L1863.5,178.3 L1866.5,183.2 L1869.6,188.3 L1872.6,193.5 L1875.7,199.0" stroke="#ff00ff" stroke-width="3.0" fill="none" stroke-linejoin="round" stroke-linecap="round"/>
<path d="M1670.4 203.4h10.4M1675.6 198.2v10.4M1671.9 199.7l7.4 7.4M1671.9 207.1l7.4 -7.4M1702.6 164.2h10.4M1707.8 159.0v10.4M1704.1 160.5l7.4 7.4M1704.1 167.9l7.4 -7.4M1789.1 229.5h10.4M1794.3 224.3v10.4M1790.6 225.8l7.4 7.4M1790.6 233.2l7.4 -7.4M1801.8 254.1h10.4M1807.0 248.9v10.4M1803.3 250.4l7.4 7.4M1803.3 257.8l7.4 -7.4M1815.8 282.0h10.4M1821.0 276.8v10.4M1817.3 278.3l7.4 7.4M1817.3 285.7l7.4 -7.4M1822.1 294.3h10.4M1827.3 289.1v10.4M1823.6 290.6l7.4 7.4M1823.6 298.0l7.4 -7.4M1827.2 304.1h10.4M1832.4 298.9v10.4M1828.7 300.4l7.4 7.4M1828.7 307.8l7.4 -7.4M1831.0 311.2h10.4M1836.2 306.0v10.4M1832.5 307.5l7.4 7.4M1832.5 314.9l7.4 -7.4M1834.8 318.1h10.4M1840.0 312.9v10.4M1836.3 314.4l7.4 7.4M1836.3 321.8l7.4 -7.4" fill="none" stroke="#9a9a3a" stroke-width="1.2"/>
<path d="M1512.7,423.8 L1515.8,422.7 L1518.8,421.6 L1521.9,420.4 L1524.9,419.1 L1528.0,417.7 L1531.0,416.3 L1534.1,414.7 L1537.1,413.0 L1540.2,411.3 L1543.2,409.4 L1546.3,407.4 L1549.3,405.3 L1552.4,403.1 L1555.4,400.7 L1558.5,398.2 L1561.5,395.6 L1564.6,392.8 L1567.7,389.8 L1570.7,386.7 L1573.8,383.4 L1576.8,380.0 L1579.9,376.4 L1582.9,372.6 L1586.0,368.7 L1589.0,364.5 L1592.1,360.2 L1595.1,355.7 L1598.2,351.1 L1601.2,346.2 L1604.3,341.2 L1607.3,336.1 L1610.4,330.7 L1613.4,325.2 L1616.5,319.6 L1619.6,313.8 L1622.6,307.9 L1625.7,301.9 L1628.7,295.8 L1631.8,289.6 L1634.8,283.4 L1637.9,277.1 L1640.9,270.8 L1644.0,264.5 L1647.0,258.1 L1650.1,251.8 L1653.1,245.6 L1656.2,239.5 L1659.2,233.4 L1662.3,227.4 L1665.3,221.6 L1668.4,216.0 L1671.5,210.5 L1674.5,205.2 L1677.6,200.1 L1680.6,195.3 L1683.7,190.7 L1686.7,186.3 L1689.8,182.2 L1692.8,178.4 L1695.9,174.9 L1698.9,171.7 L1702.0,168.8 L1705.0,166.2 L1708.1,164.0 L1711.1,162.0 L1714.2,160.4 L1717.2,159.2 L1720.3,158.3 L1723.4,157.7 L1726.4,157.4 L1729.5,157.5 L1732.5,157.9 L1735.6,158.7 L1738.6,159.8 L1741.7,161.2 L1744.7,163.0 L1747.8,165.0 L1750.8,167.4 L1753.9,170.1 L1756.9,173.1 L1760.0,176.4 L1763.0,179.9 L1766.1,183.7 L1769.1,187.8 L1772.2,192.1 L1775.3,196.7 L1778.3,201.5 L1781.4,206.5 L1784.4,211.6 L1787.5,217.0 L1790.5,222.5 L1793.6,228.1 L1796.6,233.9 L1799.7,239.7 L1802.7,245.7 L1805.8,251.7 L1808.8,257.7 L1811.9,263.8 L1814.9,269.9 L1818.0,276.0 L1821.0,282.0 L1824.1,288.1 L1827.2,294.0 L1830.2,299.9 L1833.3,305.7 L1836.3,311.4 L1839.4,317.0 L1842.4,322.4 L1845.5,327.8 L1848.5,333.0 L1851.6,338.0 L1854.6,342.9 L1857.7,347.7 L1860.7,352.3 L1863.8,356.7 L1866.8,361.0 L1869.9,365.1 L1872.9,369.0 L1876.0,372.8" stroke="#808000" stroke-width="3.0" fill="none" stroke-linejoin="round" stroke-linecap="round"/>
<path d="M1641.3 258.8l11 6l-11 6zM1675.7 209.5l11 6l-11 6zM1746.1 251.0l11 6l-11 6zM1778.3 308.7l11 6l-11 6zM1788.5 326.0l11 6l-11 6zM1795.7 337.4l11 6l-11 6zM1799.5 343.2l11 6l-11 6zM1803.7 349.3l11 6l-11 6zM1806.3 352.9l11 6l-11 6z" fill="#800000"/>
<path d="M1612.0,326.5 L1614.2,322.6 L1616.4,318.6 L1618.7,314.5 L1620.9,310.4 L1623.1,306.2 L1625.3,302.0 L1627.5,297.8 L1629.7,293.6 L1632.0,289.4 L1634.2,285.1 L1636.4,280.9 L1638.6,276.7 L1640.8,272.5 L1643.1,268.4 L1645.3,264.3 L1647.5,260.3 L1649.7,256.3 L1651.9,252.5 L1654.2,248.7 L1656.4,245.0 L1658.6,241.5 L1660.8,238.1 L1663.0,234.8 L1665.2,231.6 L1667.5,228.6 L1669.7,225.8 L1671.9,223.1 L1674.1,220.6 L1676.3,218.3 L1678.6,216.2 L1680.8,214.3 L1683.0,212.6 L1685.2,211.1 L1687.4,209.8 L1689.6,208.8 L1691.9,207.9 L1694.1,207.3 L1696.3,206.9 L1698.5,206.8 L1700.7,206.8 L1703.0,207.1 L1705.2,207.6 L1707.4,208.4 L1709.6,209.3 L1711.8,210.5 L1714.1,211.8 L1716.3,213.4 L1718.5,215.2 L1720.7,217.1 L1722.9,219.3 L1725.1,221.6 L1727.4,224.1 L1729.6,226.7 L1731.8,229.6 L1734.0,232.5 L1736.2,235.6 L1738.5,238.9 L1740.7,242.2 L1742.9,245.7 L1745.1,249.2 L1747.3,252.9 L1749.5,256.6 L1751.8,260.4 L1754.0,264.3 L1756.2,268.2 L1758.4,272.1 L1760.6,276.1 L1762.9,280.1 L1765.1,284.2 L1767.3,288.2 L1769.5,292.2 L1771.7,296.3 L1773.9,300.3 L1776.2,304.3 L1778.4,308.3 L1780.6,312.2 L1782.8,316.1 L1785.0,319.9 L1787.3,323.7 L1789.5,327.5 L1791.7,331.2 L1793.9,334.8 L1796.1,338.3 L1798.4,341.8 L1800.6,345.2 L1802.8,348.6 L1805.0,351.8 L1807.2,355.0 L1809.4,358.1 L1811.7,361.1 L1813.9,364.1 L1816.1,366.9 L1818.3,369.7 L1820.5,372.4 L1822.8,375.0 L1825.0,377.6 L1827.2,380.0 L1829.4,382.4 L1831.6,384.7 L1833.8,386.9 L1836.1,389.1 L1838.3,391.1 L1840.5,393.1 L1842.7,395.1 L1844.9,396.9 L1847.2,398.7 L1849.4,400.4 L1851.6,402.1 L1853.8,403.7 L1856.0,405.2 L1858.3,406.7 L1860.5,408.1 L1862.7,409.4 L1864.9,410.7 L1867.1,412.0 L1869.3,413.2 L1871.6,414.3 L1873.8,415.4 L1876.0,416.5" stroke="#800000" stroke-width="2.8" fill="none" stroke-linejoin="round" stroke-linecap="round"/>
<path d="M1644.3 240.1h11.6l-5.8 10.4zM1683.8 226.1h11.6l-5.8 10.4zM1759.6 335.2h11.6l-5.8 10.4zM1771.1 352.1h11.6l-5.8 10.4zM1777.0 360.0h11.6l-5.8 10.4zM1780.0 363.8h11.6l-5.8 10.4zM1785.1 370.0h11.6l-5.8 10.4z" fill="#f0502d"/>
<path d="M1562.3,382.4 L1564.9,379.4 L1567.6,376.2 L1570.2,373.0 L1572.8,369.6 L1575.5,366.0 L1578.1,362.4 L1580.7,358.6 L1583.4,354.7 L1586.0,350.7 L1588.6,346.6 L1591.3,342.4 L1593.9,338.0 L1596.5,333.6 L1599.2,329.1 L1601.8,324.5 L1604.4,319.8 L1607.1,315.1 L1609.7,310.3 L1612.3,305.5 L1615.0,300.7 L1617.6,295.9 L1620.2,291.1 L1622.9,286.3 L1625.5,281.6 L1628.1,277.0 L1630.8,272.4 L1633.4,268.0 L1636.0,263.7 L1638.7,259.5 L1641.3,255.5 L1643.9,251.7 L1646.6,248.1 L1649.2,244.7 L1651.8,241.6 L1654.5,238.7 L1657.1,236.1 L1659.7,233.8 L1662.4,231.7 L1665.0,230.0 L1667.6,228.6 L1670.3,227.5 L1672.9,226.8 L1675.5,226.3 L1678.2,226.2 L1680.8,226.5 L1683.4,227.0 L1686.1,227.9 L1688.7,229.1 L1691.3,230.6 L1694.0,232.4 L1696.6,234.5 L1699.2,236.8 L1701.9,239.5 L1704.5,242.3 L1707.1,245.4 L1709.8,248.7 L1712.4,252.2 L1715.0,255.9 L1717.7,259.8 L1720.3,263.8 L1723.0,267.9 L1725.6,272.1 L1728.2,276.4 L1730.9,280.8 L1733.5,285.3 L1736.1,289.8 L1738.8,294.3 L1741.4,298.8 L1744.0,303.4 L1746.7,307.9 L1749.3,312.4 L1751.9,316.8 L1754.6,321.2 L1757.2,325.6 L1759.8,329.9 L1762.5,334.1 L1765.1,338.2 L1767.7,342.3 L1770.4,346.2 L1773.0,350.1 L1775.6,353.8 L1778.3,357.5 L1780.9,361.0 L1783.5,364.4 L1786.2,367.8 L1788.8,371.0 L1791.4,374.1 L1794.1,377.1 L1796.7,380.0 L1799.3,382.7 L1802.0,385.4 L1804.6,388.0 L1807.2,390.4 L1809.9,392.8 L1812.5,395.1 L1815.1,397.2 L1817.8,399.3 L1820.4,401.3 L1823.0,403.2 L1825.7,405.0 L1828.3,406.7 L1830.9,408.4 L1833.6,409.9 L1836.2,411.4 L1838.8,412.9 L1841.5,414.2 L1844.1,415.5 L1846.7,416.7 L1849.4,417.9 L1852.0,419.0 L1854.6,420.1 L1857.3,421.1 L1859.9,422.0 L1862.5,422.9 L1865.2,423.8 L1867.8,424.6 L1870.4,425.4 L1873.1,426.1 L1875.7,426.8" stroke="#f05a3c" stroke-width="2.8" fill="none" stroke-linejoin="round" stroke-linecap="round"/>
<path d="M1710.3 350.5L1711.7 354.3L1715.6 354.4L1712.5 356.9L1713.6 360.7L1710.3 358.4L1707.0 360.7L1708.1 356.9L1705.0 354.4L1708.9 354.3zM1718.0 340.5L1719.4 344.2L1723.3 344.4L1720.2 346.8L1721.3 350.6L1718.0 348.4L1714.7 350.6L1715.8 346.8L1712.7 344.4L1716.6 344.2zM1728.1 326.6L1729.5 330.4L1733.4 330.5L1730.3 332.9L1731.4 336.8L1728.1 334.5L1724.8 336.8L1725.9 332.9L1722.8 330.5L1726.7 330.4zM1735.8 315.9L1737.2 319.6L1741.1 319.7L1738.0 322.2L1739.1 326.0L1735.8 323.8L1732.5 326.0L1733.6 322.2L1730.5 319.7L1734.4 319.6zM1743.4 305.4L1744.8 309.2L1748.7 309.3L1745.6 311.7L1746.7 315.6L1743.4 313.3L1740.1 315.6L1741.2 311.7L1738.1 309.3L1742.0 309.2zM1751.0 295.5L1752.4 299.3L1756.3 299.4L1753.2 301.9L1754.3 305.7L1751.0 303.4L1747.7 305.7L1748.8 301.9L1745.7 299.4L1749.6 299.3zM1758.7 286.5L1760.1 290.3L1764.0 290.4L1760.9 292.8L1762.0 296.6L1758.7 294.4L1755.4 296.6L1756.5 292.8L1753.4 290.4L1757.3 290.3zM1766.3 279.0L1767.7 282.8L1771.6 282.9L1768.5 285.4L1769.6 289.2L1766.3 286.9L1763.0 289.2L1764.1 285.4L1761.0 282.9L1764.9 282.8zM1773.9 273.4L1775.3 277.2L1779.2 277.3L1776.1 279.8L1777.2 283.6L1773.9 281.3L1770.6 283.6L1771.7 279.8L1768.6 277.3L1772.5 277.2zM1782.8 269.8L1784.2 273.5L1788.1 273.6L1785.0 276.1L1786.1 279.9L1782.8 277.7L1779.5 279.9L1780.6 276.1L1777.5 273.6L1781.4 273.5z" fill="#800080"/>
<path d="M1562.3,433.9 L1564.9,433.6 L1567.6,433.3 L1570.2,433.0 L1572.9,432.7 L1575.5,432.3 L1578.1,432.0 L1580.8,431.6 L1583.4,431.2 L1586.0,430.8 L1588.7,430.3 L1591.3,429.9 L1594.0,429.4 L1596.6,428.8 L1599.2,428.3 L1601.9,427.7 L1604.5,427.1 L1607.1,426.5 L1609.8,425.8 L1612.4,425.1 L1615.1,424.3 L1617.7,423.5 L1620.3,422.7 L1623.0,421.8 L1625.6,420.9 L1628.2,420.0 L1630.9,419.0 L1633.5,417.9 L1636.2,416.8 L1638.8,415.6 L1641.4,414.4 L1644.1,413.1 L1646.7,411.8 L1649.3,410.4 L1652.0,408.9 L1654.6,407.3 L1657.3,405.7 L1659.9,404.0 L1662.5,402.3 L1665.2,400.4 L1667.8,398.5 L1670.5,396.5 L1673.1,394.4 L1675.7,392.3 L1678.4,390.0 L1681.0,387.7 L1683.6,385.2 L1686.3,382.7 L1688.9,380.1 L1691.6,377.4 L1694.2,374.6 L1696.8,371.7 L1699.5,368.7 L1702.1,365.7 L1704.7,362.5 L1707.4,359.3 L1710.0,356.0 L1712.7,352.6 L1715.3,349.2 L1717.9,345.7 L1720.6,342.1 L1723.2,338.5 L1725.8,334.9 L1728.5,331.2 L1731.1,327.5 L1733.8,323.8 L1736.4,320.2 L1739.0,316.5 L1741.7,312.9 L1744.3,309.3 L1746.9,305.8 L1749.6,302.4 L1752.2,299.1 L1754.9,296.0 L1757.5,292.9 L1760.1,290.1 L1762.8,287.4 L1765.4,284.9 L1768.0,282.7 L1770.7,280.7 L1773.3,278.9 L1776.0,277.4 L1778.6,276.2 L1781.2,275.3 L1783.9,274.6 L1786.5,274.3 L1789.2,274.3 L1791.8,274.7 L1794.4,275.3 L1797.1,276.2 L1799.7,277.5 L1802.3,279.1 L1805.0,280.9 L1807.6,283.0 L1810.3,285.4 L1812.9,288.0 L1815.5,290.9 L1818.2,294.0 L1820.8,297.2 L1823.4,300.6 L1826.1,304.2 L1828.7,307.9 L1831.4,311.7 L1834.0,315.6 L1836.6,319.5 L1839.3,323.5 L1841.9,327.5 L1844.5,331.5 L1847.2,335.6 L1849.8,339.5 L1852.5,343.5 L1855.1,347.4 L1857.7,351.2 L1860.4,355.0 L1863.0,358.7 L1865.6,362.3 L1868.3,365.8 L1870.9,369.2 L1873.6,372.5 L1876.2,375.6" stroke="#800080" stroke-width="2.8" fill="none" stroke-linejoin="round" stroke-linecap="round"/>
<path d="M1617.9 415.3l11 12M1617.9 427.3l11 -12M1617.9 415.3q4 6 0 12M1622.4 417.3l5 4l-5 4M1649.7 400.5l11 12M1649.7 412.5l11 -12M1649.7 400.5q4 6 0 12M1654.2 402.5l5 4l-5 4M1682.8 375.1l11 12M1682.8 387.1l11 -12M1682.8 375.1q4 6 0 12M1687.3 377.1l5 4l-5 4M1704.5 353.5l11 12M1704.5 365.5l11 -12M1704.5 353.5q4 6 0 12M1709.0 355.5l5 4l-5 4M1712.5 345.3l11 12M1712.5 357.3l11 -12M1712.5 345.3q4 6 0 12M1717.0 347.3l5 4l-5 4M1717.6 340.3l11 12M1717.6 352.3l11 -12M1717.6 340.3q4 6 0 12M1722.1 342.3l5 4l-5 4M1724.5 334.0l11 12M1724.5 346.0l11 -12M1724.5 334.0q4 6 0 12M1729.0 336.0l5 4l-5 4M1732.8 327.6l11 12M1732.8 339.6l11 -12M1732.8 327.6q4 6 0 12M1737.3 329.6l5 4l-5 4M1740.5 323.3l11 12M1740.5 335.3l11 -12M1740.5 323.3q4 6 0 12M1745.0 325.3l5 4l-5 4M1748.1 321.0l11 12M1748.1 333.0l11 -12M1748.1 321.0q4 6 0 12M1752.6 323.0l5 4l-5 4M1755.7 320.7l11 12M1755.7 332.7l11 -12M1755.7 320.7q4 6 0 12M1760.2 322.7l5 4l-5 4" fill="none" stroke="#4aa8a8" stroke-width="1.1"/>
<path d="M1586.5,430.5 L1589.0,430.1 L1591.5,429.6 L1594.0,429.1 L1596.5,428.6 L1599.0,428.1 L1601.5,427.5 L1604.0,427.0 L1606.5,426.3 L1608.9,425.7 L1611.4,425.0 L1613.9,424.3 L1616.4,423.6 L1618.9,422.8 L1621.4,422.0 L1623.9,421.2 L1626.4,420.3 L1628.9,419.3 L1631.4,418.4 L1633.9,417.3 L1636.4,416.3 L1638.9,415.1 L1641.4,414.0 L1643.9,412.8 L1646.4,411.5 L1648.9,410.2 L1651.3,408.8 L1653.8,407.4 L1656.3,405.9 L1658.8,404.3 L1661.3,402.7 L1663.8,401.0 L1666.3,399.3 L1668.8,397.4 L1671.3,395.6 L1673.8,393.6 L1676.3,391.6 L1678.8,389.6 L1681.3,387.4 L1683.8,385.3 L1686.3,383.0 L1688.8,380.7 L1691.3,378.4 L1693.7,376.0 L1696.2,373.5 L1698.7,371.0 L1701.2,368.5 L1703.7,365.9 L1706.2,363.4 L1708.7,360.8 L1711.2,358.2 L1713.7,355.7 L1716.2,353.1 L1718.7,350.6 L1721.2,348.1 L1723.7,345.7 L1726.2,343.4 L1728.7,341.1 L1731.2,339.0 L1733.7,337.0 L1736.1,335.1 L1738.6,333.4 L1741.1,331.8 L1743.6,330.4 L1746.1,329.3 L1748.6,328.3 L1751.1,327.5 L1753.6,327.0 L1756.1,326.7 L1758.6,326.6 L1761.1,326.7 L1763.6,327.1 L1766.1,327.7 L1768.6,328.6 L1771.1,329.7 L1773.6,331.0 L1776.1,332.5 L1778.5,334.1 L1781.0,336.0 L1783.5,338.0 L1786.0,340.2 L1788.5,342.5 L1791.0,344.9 L1793.5,347.4 L1796.0,350.0 L1798.5,352.7 L1801.0,355.4 L1803.5,358.1 L1806.0,360.9 L1808.5,363.7 L1811.0,366.4 L1813.5,369.2 L1816.0,371.9 L1818.5,374.6 L1820.9,377.2 L1823.4,379.8 L1825.9,382.3 L1828.4,384.8 L1830.9,387.2 L1833.4,389.5 L1835.9,391.8 L1838.4,394.0 L1840.9,396.1 L1843.4,398.1 L1845.9,400.1 L1848.4,402.0 L1850.9,403.8 L1853.4,405.5 L1855.9,407.2 L1858.4,408.8 L1860.9,410.3 L1863.3,411.8 L1865.8,413.2 L1868.3,414.5 L1870.8,415.8 L1873.3,417.0 L1875.8,418.1 L1878.3,419.2 L1880.8,420.3 L1883.3,421.3" stroke="#008080" stroke-width="2.9" fill="none" stroke-linejoin="round" stroke-linecap="round"/>
</g>
<path d="M1419.6 114.0l5.3 9.4h-10.6z" fill="none" stroke="#505050" stroke-width="1.1" stroke-linejoin="miter"/>
<path d="M1414.5 154.9a5.1 5.1 0 1 0 10.2 0a5.1 5.1 0 1 0 -10.2 0z" fill="#ff0000"/>
<path d="M1419.6 184.3l6 5.5l-6 5.5l-6 -5.5z" fill="#0000ff"/>
<path d="M1414.8 219.9l9.6 9.6M1414.8 229.5l9.6 -9.6" fill="none" stroke="#ff80ff" stroke-width="1.1"/>
<path d="M1414.4 259.6h10.4M1419.6 254.4v10.4M1415.9 255.9l7.4 7.4M1415.9 263.3l7.4 -7.4" fill="none" stroke="#9a9a3a" stroke-width="1.2"/>
<path d="M1415.9 288.5l11 6l-11 6z" fill="#800000"/>
<path d="M1413.8 325.9h11.6l-5.8 10.4z" fill="#f0502d"/>
<path d="M1419.6 359.2L1421.0 362.9L1424.9 363.1L1421.8 365.5L1422.9 369.3L1419.6 367.1L1416.3 369.3L1417.4 365.5L1414.3 363.1L1418.2 362.9z" fill="#800080"/>
<path d="M1414.1 393.2l11 12M1414.1 405.2l11 -12M1414.1 393.2q4 6 0 12M1418.6 395.2l5 4l-5 4" fill="none" stroke="#4aa8a8" stroke-width="1.1"/>
<text transform="translate(1411.6 561.3) scale(0.8663 1)" class="xt">Integrated PL Intensity (arb. units), <tspan class="it">L</tspan><tspan class="it" dy="8.5">PL</tspan></text>
<text transform="translate(1305.5 456.7) rotate(-90)" class="yt">Spontaneous Emission QE, <tspan class="eta" dx="3">η</tspan></text>
<text transform="translate(1411.4 60.4) scale(0.85 1)" class="pl">C</text>
<text transform="translate(1410.5 96.4) scale(0.871 1)" class="lg">Red for display</text>
<text transform="translate(1454.6 128.5) scale(0.88 1)" class="lg">77 K</text>
<text transform="translate(1454.6 163.4) scale(0.88 1)" class="lg">100 K</text>
<text transform="translate(1454.6 198.3) scale(0.88 1)" class="lg">200 K</text>
<text transform="translate(1454.6 233.2) scale(0.88 1)" class="lg">300 K</text>
<text transform="translate(1454.6 268.1) scale(0.88 1)" class="lg">400 K</text>
<text transform="translate(1454.6 303) scale(0.88 1)" class="lg">500 K</text>
<text transform="translate(1454.6 337.9) scale(0.88 1)" class="lg">600 K</text>
<text transform="translate(1454.6 372.8) scale(0.88 1)" class="lg">700 K</text>
<text transform="translate(1454.6 407.7) scale(0.88 1)" class="lg">800 K</text>
<text x="1600.5" y="621.2" class="sub">c</text>
</svg>
</body></html>
